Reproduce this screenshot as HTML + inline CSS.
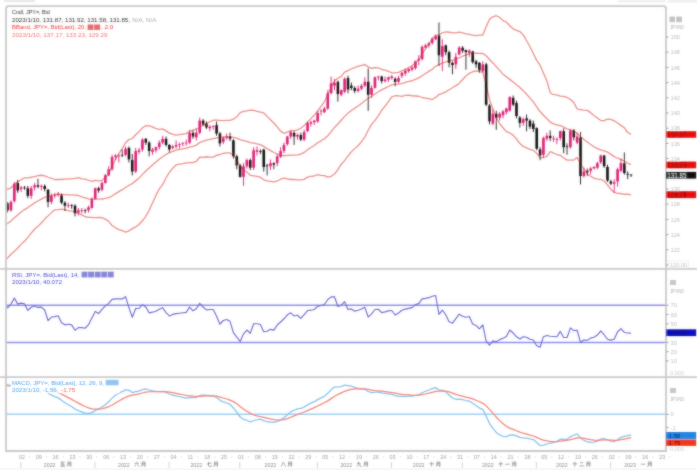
<!DOCTYPE html>
<html><head><meta charset="utf-8"><style>
html,body{margin:0;padding:0;background:#fff;}
body{width:697px;height:470px;overflow:hidden;position:relative;font-family:"Liberation Sans",sans-serif;}
</style></head><body>
<svg width="697" height="470" viewBox="0 0 697 470" style="position:absolute;left:0;top:0">
<defs><filter id="sb" x="0" y="0" width="697" height="470" filterUnits="userSpaceOnUse"><feGaussianBlur in="SourceGraphic" stdDeviation="0.8" result="b"/><feComposite in="SourceGraphic" in2="b" operator="arithmetic" k1="0" k2="0.5" k3="0.5" k4="0"/></filter><clipPath id="cm"><rect x="6.0" y="6.1" width="660.0" height="262.79999999999995"/></clipPath><clipPath id="cr"><rect x="6.0" y="268.9" width="660.0" height="108.30000000000001"/></clipPath><clipPath id="cc"><rect x="6.0" y="377.2" width="660.0" height="73.80000000000001"/></clipPath></defs><g filter="url(#sb)">
<g clip-path="url(#cm)"><path d="M0.88,193.19 L4.25,190.37 L7.62,189.16 L10.99,187.96 L14.36,183.93 L17.73,181.82 L21.10,179.74 L24.47,177.92 L27.84,177.84 L31.21,177.25 L34.58,176.53 L37.95,175.65 L41.32,175.26 L44.69,175.78 L48.06,177.24 L51.43,178.48 L54.80,179.50 L58.17,179.35 L61.54,179.52 L64.91,179.21 L68.28,178.97 L71.65,178.81 L75.02,178.34 L78.39,177.71 L81.76,178.80 L85.13,179.06 L88.50,180.25 L91.87,181.43 L95.24,180.46 L98.61,180.81 L101.98,180.33 L105.35,177.71 L108.72,173.81 L112.09,166.52 L115.46,159.51 L118.83,153.70 L122.20,148.66 L125.57,142.77 L128.94,139.58 L132.31,138.50 L135.68,134.80 L139.05,131.66 L142.42,128.05 L145.79,125.77 L149.16,125.81 L152.53,126.95 L155.90,128.56 L159.27,129.37 L162.64,128.82 L166.01,130.86 L169.38,133.09 L172.75,134.44 L176.12,135.18 L179.49,134.69 L182.86,134.13 L186.23,133.59 L189.60,131.41 L192.97,130.18 L196.34,128.94 L199.71,127.86 L203.08,125.08 L206.45,123.43 L209.82,121.79 L213.19,120.22 L216.56,120.13 L219.93,120.44 L223.30,120.57 L226.67,120.47 L230.04,120.47 L233.41,119.23 L236.78,116.82 L240.15,112.59 L243.52,111.33 L246.89,110.94 L250.26,110.08 L253.63,110.29 L257.00,111.38 L260.37,112.16 L263.74,112.97 L267.11,116.40 L270.48,119.78 L273.85,123.00 L277.22,126.94 L280.59,131.15 L283.96,133.32 L287.33,132.04 L290.70,130.71 L294.07,130.71 L297.44,129.96 L300.81,128.27 L304.18,125.45 L307.55,122.28 L310.92,118.68 L314.29,115.06 L317.66,110.99 L321.03,106.31 L324.40,101.78 L327.77,94.44 L331.14,86.94 L334.51,80.88 L337.88,78.28 L341.25,76.33 L344.62,72.18 L347.99,70.63 L351.36,69.01 L354.73,67.72 L358.10,66.26 L361.47,65.38 L364.84,64.52 L368.21,66.90 L371.58,68.39 L374.95,67.74 L378.32,67.78 L381.69,69.37 L385.06,70.24 L388.43,71.27 L391.80,72.86 L395.17,72.87 L398.54,72.28 L401.91,70.80 L405.28,69.35 L408.65,67.56 L412.02,65.73 L415.39,62.67 L418.76,59.54 L422.13,53.88 L425.50,48.88 L428.87,44.10 L432.24,38.89 L435.61,35.10 L438.98,34.78 L442.35,32.77 L445.72,31.85 L449.09,32.24 L452.46,32.73 L455.83,32.81 L459.20,32.16 L462.57,32.96 L465.94,33.89 L469.31,34.38 L472.68,35.08 L476.05,35.53 L479.42,35.15 L482.79,34.99 L486.16,26.81 L489.53,19.15 L492.90,16.76 L496.27,15.72 L499.64,17.28 L503.01,20.59 L506.38,22.01 L509.75,25.78 L513.12,28.85 L516.49,30.29 L519.86,31.53 L523.23,34.91 L526.60,40.79 L529.97,46.77 L533.34,53.51 L536.71,60.35 L540.08,65.17 L543.45,72.90 L546.82,80.64 L550.19,92.69 L553.56,94.70 L556.93,94.85 L560.30,96.05 L563.67,96.35 L567.04,97.48 L570.41,99.46 L573.78,102.39 L577.15,108.95 L580.52,109.53 L583.89,110.09 L587.26,110.35 L590.63,112.65 L594.00,115.51 L597.37,117.99 L600.74,120.56 L604.11,120.60 L607.48,119.21 L610.85,119.42 L614.22,120.83 L617.59,123.05 L620.96,125.37 L624.33,127.82 L627.70,132.50 L631.07,134.42" fill="none" stroke="#e88e8a" stroke-width="1.3" stroke-linejoin="round" /><path d="M0.88,226.81 L4.25,225.18 L7.62,223.54 L10.99,221.07 L14.36,217.65 L17.73,214.88 L21.10,212.07 L24.47,209.60 L27.84,207.58 L31.21,205.23 L34.58,202.87 L37.95,201.01 L41.32,199.11 L44.69,197.44 L48.06,196.56 L51.43,195.54 L54.80,194.66 L58.17,194.47 L61.54,194.36 L64.91,194.59 L68.28,194.81 L71.65,194.93 L75.02,195.08 L78.39,195.50 L81.76,196.83 L85.13,197.85 L88.50,198.84 L91.87,199.37 L95.24,198.99 L98.61,199.11 L101.98,198.99 L105.35,198.42 L108.72,197.59 L112.09,195.99 L115.46,193.67 L118.83,191.66 L122.20,189.68 L125.57,187.44 L128.94,185.28 L132.31,183.57 L135.68,180.87 L139.05,178.09 L142.42,174.41 L145.79,171.03 L149.16,168.06 L152.53,164.98 L155.90,161.98 L159.27,159.17 L162.64,156.70 L166.01,154.42 L169.38,152.75 L172.75,151.30 L176.12,150.09 L179.49,149.44 L182.86,148.83 L186.23,148.19 L189.60,147.05 L192.97,146.44 L196.34,145.11 L199.71,142.56 L203.08,141.23 L206.45,140.09 L209.82,139.45 L213.19,138.65 L216.56,137.78 L219.93,137.47 L223.30,137.02 L226.67,136.71 L230.04,136.71 L233.41,137.28 L236.78,138.08 L240.15,139.60 L243.52,140.66 L246.89,141.46 L250.26,142.68 L253.63,143.06 L257.00,143.93 L260.37,144.69 L263.74,146.40 L267.11,148.68 L270.48,150.62 L273.85,152.48 L277.22,153.96 L280.59,155.18 L283.96,155.75 L287.33,155.41 L290.70,155.10 L294.07,155.10 L297.44,154.91 L300.81,154.08 L304.18,152.41 L307.55,149.71 L310.92,147.50 L314.29,145.53 L317.66,142.79 L321.03,140.82 L324.40,138.73 L327.77,135.80 L331.14,131.62 L334.51,127.44 L337.88,123.98 L341.25,120.26 L344.62,116.38 L347.99,113.30 L351.36,110.45 L354.73,108.17 L358.10,106.01 L361.47,103.46 L364.84,100.80 L368.21,98.56 L371.58,96.36 L374.95,94.08 L378.32,91.80 L381.69,89.82 L385.06,88.15 L388.43,86.48 L391.80,84.88 L395.17,84.31 L398.54,84.04 L401.91,83.55 L405.28,82.37 L408.65,81.31 L412.02,80.74 L415.39,79.33 L418.76,77.89 L422.13,75.68 L425.50,73.52 L428.87,71.39 L432.24,69.22 L435.61,66.30 L438.98,64.66 L442.35,63.11 L445.72,61.89 L449.09,60.98 L452.46,60.26 L455.83,59.23 L459.20,57.79 L462.57,56.23 L465.94,54.94 L469.31,53.83 L472.68,53.42 L476.05,53.19 L479.42,53.34 L482.79,53.49 L486.16,55.77 L489.53,59.50 L492.90,62.92 L496.27,66.64 L499.64,70.40 L503.01,74.16 L506.38,76.82 L509.75,79.37 L513.12,81.99 L516.49,84.65 L519.86,87.54 L523.23,90.66 L526.60,94.30 L529.97,98.10 L533.34,101.94 L536.71,106.84 L540.08,111.52 L543.45,115.20 L546.82,118.47 L550.19,122.16 L553.56,123.87 L556.93,124.78 L560.30,125.65 L563.67,127.14 L567.04,128.81 L570.41,129.76 L573.78,131.20 L577.15,133.18 L580.52,136.75 L583.89,139.52 L587.26,141.99 L590.63,144.46 L594.00,146.78 L597.37,148.61 L600.74,149.94 L604.11,150.81 L607.48,152.06 L610.85,154.34 L614.22,156.66 L617.59,158.22 L620.96,159.44 L624.33,161.11 L627.70,163.27 L631.07,164.66" fill="none" stroke="#e88e8a" stroke-width="1.3" stroke-linejoin="round" /><path d="M0.88,260.43 L4.25,259.98 L7.62,257.92 L10.99,254.19 L14.36,251.37 L17.73,247.94 L21.10,244.39 L24.47,241.27 L27.84,237.32 L31.21,233.20 L34.58,229.21 L37.95,226.37 L41.32,222.95 L44.69,219.09 L48.06,215.89 L51.43,212.59 L54.80,209.83 L58.17,209.59 L61.54,209.19 L64.91,209.96 L68.28,210.66 L71.65,211.05 L75.02,211.82 L78.39,213.29 L81.76,214.86 L85.13,216.65 L88.50,217.43 L91.87,217.32 L95.24,217.53 L98.61,217.41 L101.98,217.66 L105.35,219.14 L108.72,221.37 L112.09,225.47 L115.46,227.84 L118.83,229.62 L122.20,230.71 L125.57,232.12 L128.94,230.97 L132.31,228.63 L135.68,226.94 L139.05,224.52 L142.42,220.77 L145.79,216.28 L149.16,210.31 L152.53,203.02 L155.90,195.40 L159.27,188.97 L162.64,184.58 L166.01,177.98 L169.38,172.41 L172.75,168.16 L176.12,164.99 L179.49,164.20 L182.86,163.53 L186.23,162.78 L189.60,162.69 L192.97,162.70 L196.34,161.28 L199.71,157.27 L203.08,157.39 L206.45,156.75 L209.82,157.11 L213.19,157.08 L216.56,155.43 L219.93,154.50 L223.30,153.46 L226.67,152.95 L230.04,152.95 L233.41,155.33 L236.78,159.34 L240.15,166.61 L243.52,170.00 L246.89,171.98 L250.26,175.28 L253.63,175.82 L257.00,176.48 L260.37,177.23 L263.74,179.83 L267.11,180.96 L270.48,181.46 L273.85,181.97 L277.22,180.99 L280.59,179.21 L283.96,178.18 L287.33,178.77 L290.70,179.50 L294.07,179.50 L297.44,179.86 L300.81,179.89 L304.18,179.36 L307.55,177.14 L310.92,176.33 L314.29,175.99 L317.66,174.59 L321.03,175.32 L324.40,175.67 L327.77,177.16 L331.14,176.30 L334.51,174.00 L337.88,169.68 L341.25,164.19 L344.62,160.58 L347.99,155.98 L351.36,151.90 L354.73,148.63 L358.10,145.76 L361.47,141.55 L364.84,137.08 L368.21,130.22 L371.58,124.32 L374.95,120.41 L378.32,115.81 L381.69,110.27 L385.06,106.06 L388.43,101.68 L391.80,96.90 L395.17,95.75 L398.54,95.81 L401.91,96.30 L405.28,95.40 L408.65,95.06 L412.02,95.74 L415.39,95.99 L418.76,96.24 L422.13,97.49 L425.50,98.15 L428.87,98.68 L432.24,99.56 L435.61,97.49 L438.98,94.55 L442.35,93.45 L445.72,91.93 L449.09,89.71 L452.46,87.79 L455.83,85.65 L459.20,83.42 L462.57,79.50 L465.94,75.98 L469.31,73.29 L472.68,71.75 L476.05,70.85 L479.42,71.53 L482.79,72.00 L486.16,84.73 L489.53,99.84 L492.90,109.07 L496.27,117.56 L499.64,123.53 L503.01,127.73 L506.38,131.64 L509.75,132.96 L513.12,135.14 L516.49,139.01 L519.86,143.55 L523.23,146.41 L526.60,147.82 L529.97,149.44 L533.34,150.37 L536.71,153.33 L540.08,157.86 L543.45,157.51 L546.82,156.30 L550.19,151.62 L553.56,153.03 L556.93,154.71 L560.30,155.26 L563.67,157.92 L567.04,160.13 L570.41,160.06 L573.78,160.02 L577.15,157.41 L580.52,163.97 L583.89,168.96 L587.26,173.64 L590.63,176.28 L594.00,178.05 L597.37,179.22 L600.74,179.31 L604.11,181.02 L607.48,184.92 L610.85,189.27 L614.22,192.49 L617.59,193.39 L620.96,193.51 L624.33,194.39 L627.70,194.05 L631.07,194.91" fill="none" stroke="#e88e8a" stroke-width="1.3" stroke-linejoin="round" />
<line x1="4.25" y1="199.64" x2="4.25" y2="207.24" stroke="#151515" stroke-width="0.9"/>
<rect x="2.95" y="200.40" width="2.6" height="3.04" fill="#151515"/>
<line x1="7.62" y1="201.92" x2="7.62" y2="212.56" stroke="#151515" stroke-width="0.9"/>
<rect x="6.32" y="203.44" width="2.6" height="6.84" fill="#151515"/>
<line x1="10.99" y1="200.40" x2="10.99" y2="211.80" stroke="#da1f72" stroke-width="0.9"/>
<rect x="9.69" y="201.92" width="2.6" height="8.36" fill="#da1f72"/>
<line x1="14.36" y1="182.16" x2="14.36" y2="202.68" stroke="#da1f72" stroke-width="0.9"/>
<rect x="13.06" y="183.68" width="2.6" height="17.48" fill="#da1f72"/>
<line x1="17.73" y1="179.88" x2="17.73" y2="192.80" stroke="#151515" stroke-width="0.9"/>
<rect x="16.43" y="182.92" width="2.6" height="7.60" fill="#151515"/>
<line x1="21.10" y1="185.96" x2="21.10" y2="192.04" stroke="#da1f72" stroke-width="0.9"/>
<rect x="19.80" y="187.48" width="2.6" height="1.52" fill="#da1f72"/>
<line x1="24.47" y1="185.96" x2="24.47" y2="189.76" stroke="#151515" stroke-width="0.9"/>
<rect x="23.17" y="187.46" width="2.6" height="0.80" fill="#151515"/>
<line x1="27.84" y1="185.96" x2="27.84" y2="198.12" stroke="#151515" stroke-width="0.9"/>
<rect x="26.54" y="188.24" width="2.6" height="7.60" fill="#151515"/>
<line x1="31.21" y1="185.96" x2="31.21" y2="198.88" stroke="#da1f72" stroke-width="0.9"/>
<rect x="29.91" y="188.24" width="2.6" height="7.60" fill="#da1f72"/>
<line x1="34.58" y1="182.92" x2="34.58" y2="190.52" stroke="#da1f72" stroke-width="0.9"/>
<rect x="33.28" y="185.20" width="2.6" height="2.28" fill="#da1f72"/>
<line x1="37.95" y1="178.74" x2="37.95" y2="188.24" stroke="#151515" stroke-width="0.9"/>
<rect x="36.65" y="185.20" width="2.6" height="1.52" fill="#151515"/>
<line x1="41.32" y1="184.44" x2="41.32" y2="190.52" stroke="#da1f72" stroke-width="0.9"/>
<rect x="40.02" y="185.94" width="2.6" height="0.80" fill="#da1f72"/>
<line x1="44.69" y1="184.44" x2="44.69" y2="191.28" stroke="#151515" stroke-width="0.9"/>
<rect x="43.39" y="185.96" width="2.6" height="3.04" fill="#151515"/>
<line x1="48.06" y1="189.00" x2="48.06" y2="207.24" stroke="#151515" stroke-width="0.9"/>
<rect x="46.76" y="189.76" width="2.6" height="12.16" fill="#151515"/>
<line x1="51.43" y1="193.56" x2="51.43" y2="204.20" stroke="#da1f72" stroke-width="0.9"/>
<rect x="50.13" y="195.84" width="2.6" height="6.08" fill="#da1f72"/>
<line x1="54.80" y1="192.80" x2="54.80" y2="198.12" stroke="#da1f72" stroke-width="0.9"/>
<rect x="53.50" y="195.06" width="2.6" height="0.80" fill="#da1f72"/>
<line x1="58.17" y1="192.04" x2="58.17" y2="196.60" stroke="#da1f72" stroke-width="0.9"/>
<rect x="56.87" y="193.56" width="2.6" height="1.52" fill="#da1f72"/>
<line x1="61.54" y1="193.56" x2="61.54" y2="204.20" stroke="#151515" stroke-width="0.9"/>
<rect x="60.24" y="195.08" width="2.6" height="7.60" fill="#151515"/>
<line x1="64.91" y1="201.16" x2="64.91" y2="211.04" stroke="#151515" stroke-width="0.9"/>
<rect x="63.61" y="202.68" width="2.6" height="3.04" fill="#151515"/>
<line x1="68.28" y1="202.68" x2="68.28" y2="208.00" stroke="#da1f72" stroke-width="0.9"/>
<rect x="66.98" y="204.94" width="2.6" height="0.80" fill="#da1f72"/>
<line x1="71.65" y1="204.20" x2="71.65" y2="208.76" stroke="#151515" stroke-width="0.9"/>
<rect x="70.35" y="204.94" width="2.6" height="0.80" fill="#151515"/>
<line x1="75.02" y1="204.20" x2="75.02" y2="216.36" stroke="#151515" stroke-width="0.9"/>
<rect x="73.72" y="205.72" width="2.6" height="7.60" fill="#151515"/>
<line x1="78.39" y1="208.00" x2="78.39" y2="215.60" stroke="#da1f72" stroke-width="0.9"/>
<rect x="77.09" y="210.28" width="2.6" height="2.28" fill="#da1f72"/>
<line x1="81.76" y1="208.00" x2="81.76" y2="213.32" stroke="#da1f72" stroke-width="0.9"/>
<rect x="80.46" y="210.26" width="2.6" height="0.80" fill="#da1f72"/>
<line x1="85.13" y1="208.76" x2="85.13" y2="213.32" stroke="#151515" stroke-width="0.9"/>
<rect x="83.83" y="210.26" width="2.6" height="0.80" fill="#151515"/>
<line x1="88.50" y1="205.72" x2="88.50" y2="212.56" stroke="#da1f72" stroke-width="0.9"/>
<rect x="87.20" y="207.24" width="2.6" height="3.04" fill="#da1f72"/>
<line x1="91.87" y1="197.36" x2="91.87" y2="208.76" stroke="#da1f72" stroke-width="0.9"/>
<rect x="90.57" y="198.88" width="2.6" height="9.12" fill="#da1f72"/>
<line x1="95.24" y1="187.48" x2="95.24" y2="199.64" stroke="#da1f72" stroke-width="0.9"/>
<rect x="93.94" y="188.24" width="2.6" height="10.64" fill="#da1f72"/>
<line x1="98.61" y1="186.72" x2="98.61" y2="192.80" stroke="#151515" stroke-width="0.9"/>
<rect x="97.31" y="188.24" width="2.6" height="2.28" fill="#151515"/>
<line x1="101.98" y1="181.40" x2="101.98" y2="191.28" stroke="#da1f72" stroke-width="0.9"/>
<rect x="100.68" y="182.92" width="2.6" height="6.84" fill="#da1f72"/>
<line x1="105.35" y1="173.80" x2="105.35" y2="183.68" stroke="#da1f72" stroke-width="0.9"/>
<rect x="104.05" y="175.32" width="2.6" height="7.60" fill="#da1f72"/>
<line x1="108.72" y1="166.20" x2="108.72" y2="176.08" stroke="#da1f72" stroke-width="0.9"/>
<rect x="107.42" y="169.24" width="2.6" height="6.08" fill="#da1f72"/>
<line x1="112.09" y1="154.80" x2="112.09" y2="170.76" stroke="#da1f72" stroke-width="0.9"/>
<rect x="110.79" y="157.08" width="2.6" height="12.16" fill="#da1f72"/>
<line x1="115.46" y1="154.04" x2="115.46" y2="160.12" stroke="#da1f72" stroke-width="0.9"/>
<rect x="114.16" y="155.56" width="2.6" height="1.52" fill="#da1f72"/>
<line x1="118.83" y1="154.04" x2="118.83" y2="162.40" stroke="#da1f72" stroke-width="0.9"/>
<rect x="117.53" y="155.54" width="2.6" height="0.80" fill="#da1f72"/>
<line x1="122.20" y1="149.48" x2="122.20" y2="157.08" stroke="#151515" stroke-width="0.9"/>
<rect x="120.90" y="154.78" width="2.6" height="0.80" fill="#151515"/>
<line x1="125.57" y1="146.44" x2="125.57" y2="156.32" stroke="#da1f72" stroke-width="0.9"/>
<rect x="124.27" y="148.72" width="2.6" height="6.08" fill="#da1f72"/>
<line x1="128.94" y1="146.44" x2="128.94" y2="162.40" stroke="#151515" stroke-width="0.9"/>
<rect x="127.64" y="147.96" width="2.6" height="11.40" fill="#151515"/>
<line x1="132.31" y1="154.04" x2="132.31" y2="175.32" stroke="#151515" stroke-width="0.9"/>
<rect x="131.01" y="160.12" width="2.6" height="11.40" fill="#151515"/>
<line x1="135.68" y1="147.96" x2="135.68" y2="173.04" stroke="#da1f72" stroke-width="0.9"/>
<rect x="134.38" y="151.00" width="2.6" height="20.52" fill="#da1f72"/>
<line x1="139.05" y1="147.96" x2="139.05" y2="154.04" stroke="#da1f72" stroke-width="0.9"/>
<rect x="137.75" y="150.24" width="2.6" height="1.52" fill="#da1f72"/>
<line x1="142.42" y1="138.08" x2="142.42" y2="151.76" stroke="#da1f72" stroke-width="0.9"/>
<rect x="141.12" y="139.60" width="2.6" height="9.88" fill="#da1f72"/>
<line x1="145.79" y1="138.08" x2="145.79" y2="144.92" stroke="#151515" stroke-width="0.9"/>
<rect x="144.49" y="138.84" width="2.6" height="3.80" fill="#151515"/>
<line x1="149.16" y1="141.12" x2="149.16" y2="156.32" stroke="#151515" stroke-width="0.9"/>
<rect x="147.86" y="142.64" width="2.6" height="8.36" fill="#151515"/>
<line x1="152.53" y1="147.96" x2="152.53" y2="154.80" stroke="#da1f72" stroke-width="0.9"/>
<rect x="151.23" y="149.48" width="2.6" height="2.28" fill="#da1f72"/>
<line x1="155.90" y1="146.44" x2="155.90" y2="152.52" stroke="#da1f72" stroke-width="0.9"/>
<rect x="154.60" y="147.20" width="2.6" height="3.04" fill="#da1f72"/>
<line x1="159.27" y1="140.36" x2="159.27" y2="149.48" stroke="#da1f72" stroke-width="0.9"/>
<rect x="157.97" y="142.64" width="2.6" height="4.56" fill="#da1f72"/>
<line x1="162.64" y1="135.80" x2="162.64" y2="144.16" stroke="#da1f72" stroke-width="0.9"/>
<rect x="161.34" y="138.84" width="2.6" height="3.80" fill="#da1f72"/>
<line x1="166.01" y1="136.56" x2="166.01" y2="146.44" stroke="#151515" stroke-width="0.9"/>
<rect x="164.71" y="138.84" width="2.6" height="6.08" fill="#151515"/>
<line x1="169.38" y1="144.16" x2="169.38" y2="152.52" stroke="#151515" stroke-width="0.9"/>
<rect x="168.08" y="144.92" width="2.6" height="4.56" fill="#151515"/>
<line x1="172.75" y1="144.92" x2="172.75" y2="149.48" stroke="#da1f72" stroke-width="0.9"/>
<rect x="171.45" y="146.44" width="2.6" height="1.52" fill="#da1f72"/>
<line x1="176.12" y1="140.36" x2="176.12" y2="148.72" stroke="#da1f72" stroke-width="0.9"/>
<rect x="174.82" y="144.92" width="2.6" height="1.52" fill="#da1f72"/>
<line x1="179.49" y1="142.64" x2="179.49" y2="148.72" stroke="#da1f72" stroke-width="0.9"/>
<rect x="178.19" y="144.14" width="2.6" height="0.80" fill="#da1f72"/>
<line x1="182.86" y1="141.88" x2="182.86" y2="146.44" stroke="#da1f72" stroke-width="0.9"/>
<rect x="181.56" y="143.38" width="2.6" height="0.80" fill="#da1f72"/>
<line x1="186.23" y1="139.60" x2="186.23" y2="145.68" stroke="#da1f72" stroke-width="0.9"/>
<rect x="184.93" y="142.62" width="2.6" height="0.80" fill="#da1f72"/>
<line x1="189.60" y1="129.72" x2="189.60" y2="144.16" stroke="#da1f72" stroke-width="0.9"/>
<rect x="188.30" y="132.76" width="2.6" height="9.88" fill="#da1f72"/>
<line x1="192.97" y1="130.48" x2="192.97" y2="138.84" stroke="#151515" stroke-width="0.9"/>
<rect x="191.67" y="132.76" width="2.6" height="3.80" fill="#151515"/>
<line x1="196.34" y1="128.96" x2="196.34" y2="140.36" stroke="#da1f72" stroke-width="0.9"/>
<rect x="195.04" y="132.76" width="2.6" height="4.56" fill="#da1f72"/>
<line x1="199.71" y1="117.56" x2="199.71" y2="134.28" stroke="#da1f72" stroke-width="0.9"/>
<rect x="198.41" y="120.60" width="2.6" height="12.16" fill="#da1f72"/>
<line x1="203.08" y1="119.08" x2="203.08" y2="125.92" stroke="#151515" stroke-width="0.9"/>
<rect x="201.78" y="120.60" width="2.6" height="3.80" fill="#151515"/>
<line x1="206.45" y1="121.36" x2="206.45" y2="128.96" stroke="#151515" stroke-width="0.9"/>
<rect x="205.15" y="123.64" width="2.6" height="3.80" fill="#151515"/>
<line x1="209.82" y1="125.16" x2="209.82" y2="131.24" stroke="#da1f72" stroke-width="0.9"/>
<rect x="208.52" y="126.68" width="2.6" height="1.52" fill="#da1f72"/>
<line x1="213.19" y1="125.16" x2="213.19" y2="129.72" stroke="#da1f72" stroke-width="0.9"/>
<rect x="211.89" y="126.28" width="2.6" height="0.80" fill="#da1f72"/>
<line x1="216.56" y1="121.36" x2="216.56" y2="135.80" stroke="#151515" stroke-width="0.9"/>
<rect x="215.26" y="125.16" width="2.6" height="8.36" fill="#151515"/>
<line x1="219.93" y1="132.00" x2="219.93" y2="146.44" stroke="#151515" stroke-width="0.9"/>
<rect x="218.63" y="133.52" width="2.6" height="9.88" fill="#151515"/>
<line x1="223.30" y1="136.56" x2="223.30" y2="144.16" stroke="#da1f72" stroke-width="0.9"/>
<rect x="222.00" y="138.08" width="2.6" height="3.80" fill="#da1f72"/>
<line x1="226.67" y1="133.52" x2="226.67" y2="139.60" stroke="#da1f72" stroke-width="0.9"/>
<rect x="225.37" y="136.56" width="2.6" height="1.52" fill="#da1f72"/>
<line x1="230.04" y1="132.76" x2="230.04" y2="141.12" stroke="#151515" stroke-width="0.9"/>
<rect x="228.74" y="136.56" width="2.6" height="2.28" fill="#151515"/>
<line x1="233.41" y1="138.84" x2="233.41" y2="158.60" stroke="#151515" stroke-width="0.9"/>
<rect x="232.11" y="140.36" width="2.6" height="15.96" fill="#151515"/>
<line x1="236.78" y1="154.80" x2="236.78" y2="169.24" stroke="#151515" stroke-width="0.9"/>
<rect x="235.48" y="156.32" width="2.6" height="9.12" fill="#151515"/>
<line x1="240.15" y1="163.92" x2="240.15" y2="177.60" stroke="#151515" stroke-width="0.9"/>
<rect x="238.85" y="165.44" width="2.6" height="11.40" fill="#151515"/>
<line x1="243.52" y1="163.16" x2="243.52" y2="185.96" stroke="#da1f72" stroke-width="0.9"/>
<rect x="242.22" y="166.20" width="2.6" height="10.64" fill="#da1f72"/>
<line x1="246.89" y1="158.60" x2="246.89" y2="168.48" stroke="#da1f72" stroke-width="0.9"/>
<rect x="245.59" y="160.12" width="2.6" height="6.08" fill="#da1f72"/>
<line x1="250.26" y1="158.60" x2="250.26" y2="170.00" stroke="#151515" stroke-width="0.9"/>
<rect x="248.96" y="160.12" width="2.6" height="7.60" fill="#151515"/>
<line x1="253.63" y1="147.20" x2="253.63" y2="170.00" stroke="#da1f72" stroke-width="0.9"/>
<rect x="252.33" y="150.24" width="2.6" height="17.48" fill="#da1f72"/>
<line x1="257.00" y1="146.44" x2="257.00" y2="155.56" stroke="#da1f72" stroke-width="0.9"/>
<rect x="255.70" y="150.24" width="2.6" height="1.52" fill="#da1f72"/>
<line x1="260.37" y1="149.48" x2="260.37" y2="154.04" stroke="#151515" stroke-width="0.9"/>
<rect x="259.07" y="150.98" width="2.6" height="0.80" fill="#151515"/>
<line x1="263.74" y1="148.72" x2="263.74" y2="171.52" stroke="#151515" stroke-width="0.9"/>
<rect x="262.44" y="149.48" width="2.6" height="17.48" fill="#151515"/>
<line x1="267.11" y1="163.92" x2="267.11" y2="175.32" stroke="#151515" stroke-width="0.9"/>
<rect x="265.81" y="165.42" width="2.6" height="0.80" fill="#151515"/>
<line x1="270.48" y1="159.36" x2="270.48" y2="170.00" stroke="#da1f72" stroke-width="0.9"/>
<rect x="269.18" y="163.16" width="2.6" height="3.04" fill="#da1f72"/>
<line x1="273.85" y1="162.40" x2="273.85" y2="169.24" stroke="#151515" stroke-width="0.9"/>
<rect x="272.55" y="163.16" width="2.6" height="1.52" fill="#151515"/>
<line x1="277.22" y1="154.04" x2="277.22" y2="166.20" stroke="#da1f72" stroke-width="0.9"/>
<rect x="275.92" y="156.32" width="2.6" height="6.84" fill="#da1f72"/>
<line x1="280.59" y1="147.20" x2="280.59" y2="157.84" stroke="#da1f72" stroke-width="0.9"/>
<rect x="279.29" y="151.00" width="2.6" height="6.08" fill="#da1f72"/>
<line x1="283.96" y1="142.64" x2="283.96" y2="153.28" stroke="#da1f72" stroke-width="0.9"/>
<rect x="282.66" y="144.92" width="2.6" height="6.08" fill="#da1f72"/>
<line x1="287.33" y1="135.80" x2="287.33" y2="145.68" stroke="#da1f72" stroke-width="0.9"/>
<rect x="286.03" y="136.56" width="2.6" height="7.60" fill="#da1f72"/>
<line x1="290.70" y1="130.48" x2="290.70" y2="138.84" stroke="#da1f72" stroke-width="0.9"/>
<rect x="289.40" y="132.00" width="2.6" height="4.56" fill="#da1f72"/>
<line x1="294.07" y1="131.24" x2="294.07" y2="144.92" stroke="#151515" stroke-width="0.9"/>
<rect x="292.77" y="132.76" width="2.6" height="3.80" fill="#151515"/>
<line x1="297.44" y1="133.52" x2="297.44" y2="139.60" stroke="#da1f72" stroke-width="0.9"/>
<rect x="296.14" y="135.04" width="2.6" height="1.52" fill="#da1f72"/>
<line x1="300.81" y1="132.76" x2="300.81" y2="141.12" stroke="#151515" stroke-width="0.9"/>
<rect x="299.51" y="135.04" width="2.6" height="4.56" fill="#151515"/>
<line x1="304.18" y1="129.72" x2="304.18" y2="141.12" stroke="#da1f72" stroke-width="0.9"/>
<rect x="302.88" y="132.00" width="2.6" height="7.60" fill="#da1f72"/>
<line x1="307.55" y1="121.36" x2="307.55" y2="132.00" stroke="#da1f72" stroke-width="0.9"/>
<rect x="306.25" y="122.88" width="2.6" height="8.36" fill="#da1f72"/>
<line x1="310.92" y1="120.60" x2="310.92" y2="126.68" stroke="#da1f72" stroke-width="0.9"/>
<rect x="309.62" y="122.12" width="2.6" height="1.52" fill="#da1f72"/>
<line x1="314.29" y1="119.84" x2="314.29" y2="125.16" stroke="#da1f72" stroke-width="0.9"/>
<rect x="312.99" y="120.60" width="2.6" height="1.52" fill="#da1f72"/>
<line x1="317.66" y1="110.72" x2="317.66" y2="122.88" stroke="#da1f72" stroke-width="0.9"/>
<rect x="316.36" y="113.00" width="2.6" height="8.36" fill="#da1f72"/>
<line x1="321.03" y1="109.20" x2="321.03" y2="115.28" stroke="#da1f72" stroke-width="0.9"/>
<rect x="319.73" y="110.70" width="2.6" height="0.80" fill="#da1f72"/>
<line x1="324.40" y1="106.92" x2="324.40" y2="113.00" stroke="#da1f72" stroke-width="0.9"/>
<rect x="323.10" y="108.44" width="2.6" height="3.80" fill="#da1f72"/>
<line x1="327.77" y1="90.20" x2="327.77" y2="109.96" stroke="#da1f72" stroke-width="0.9"/>
<rect x="326.47" y="93.24" width="2.6" height="15.20" fill="#da1f72"/>
<line x1="331.14" y1="76.52" x2="331.14" y2="94.00" stroke="#da1f72" stroke-width="0.9"/>
<rect x="329.84" y="83.36" width="2.6" height="9.88" fill="#da1f72"/>
<line x1="334.51" y1="78.80" x2="334.51" y2="90.20" stroke="#da1f72" stroke-width="0.9"/>
<rect x="333.21" y="82.60" width="2.6" height="3.04" fill="#da1f72"/>
<line x1="337.88" y1="80.32" x2="337.88" y2="101.60" stroke="#151515" stroke-width="0.9"/>
<rect x="336.58" y="81.84" width="2.6" height="12.16" fill="#151515"/>
<line x1="341.25" y1="89.44" x2="341.25" y2="96.28" stroke="#da1f72" stroke-width="0.9"/>
<rect x="339.95" y="90.20" width="2.6" height="4.56" fill="#da1f72"/>
<line x1="344.62" y1="77.28" x2="344.62" y2="93.24" stroke="#da1f72" stroke-width="0.9"/>
<rect x="343.32" y="78.80" width="2.6" height="12.92" fill="#da1f72"/>
<line x1="347.99" y1="75.76" x2="347.99" y2="93.24" stroke="#151515" stroke-width="0.9"/>
<rect x="346.69" y="78.04" width="2.6" height="11.40" fill="#151515"/>
<line x1="351.36" y1="82.60" x2="351.36" y2="90.20" stroke="#151515" stroke-width="0.9"/>
<rect x="350.06" y="85.64" width="2.6" height="2.28" fill="#151515"/>
<line x1="354.73" y1="86.40" x2="354.73" y2="93.24" stroke="#151515" stroke-width="0.9"/>
<rect x="353.43" y="87.92" width="2.6" height="3.04" fill="#151515"/>
<line x1="358.10" y1="85.64" x2="358.10" y2="92.48" stroke="#da1f72" stroke-width="0.9"/>
<rect x="356.80" y="88.68" width="2.6" height="2.28" fill="#da1f72"/>
<line x1="361.47" y1="84.12" x2="361.47" y2="90.20" stroke="#da1f72" stroke-width="0.9"/>
<rect x="360.17" y="85.64" width="2.6" height="3.04" fill="#da1f72"/>
<line x1="364.84" y1="77.28" x2="364.84" y2="87.16" stroke="#da1f72" stroke-width="0.9"/>
<rect x="363.54" y="81.84" width="2.6" height="3.80" fill="#da1f72"/>
<line x1="368.21" y1="68.16" x2="368.21" y2="110.72" stroke="#151515" stroke-width="0.9"/>
<rect x="366.91" y="81.84" width="2.6" height="12.92" fill="#151515"/>
<line x1="371.58" y1="85.64" x2="371.58" y2="97.80" stroke="#da1f72" stroke-width="0.9"/>
<rect x="370.28" y="87.92" width="2.6" height="6.84" fill="#da1f72"/>
<line x1="374.95" y1="76.52" x2="374.95" y2="88.68" stroke="#da1f72" stroke-width="0.9"/>
<rect x="373.65" y="77.28" width="2.6" height="10.64" fill="#da1f72"/>
<line x1="378.32" y1="75.76" x2="378.32" y2="80.32" stroke="#da1f72" stroke-width="0.9"/>
<rect x="377.02" y="76.50" width="2.6" height="0.80" fill="#da1f72"/>
<line x1="381.69" y1="75.76" x2="381.69" y2="83.36" stroke="#151515" stroke-width="0.9"/>
<rect x="380.39" y="76.52" width="2.6" height="4.56" fill="#151515"/>
<line x1="385.06" y1="76.52" x2="385.06" y2="82.60" stroke="#da1f72" stroke-width="0.9"/>
<rect x="383.76" y="79.56" width="2.6" height="1.52" fill="#da1f72"/>
<line x1="388.43" y1="76.52" x2="388.43" y2="81.84" stroke="#da1f72" stroke-width="0.9"/>
<rect x="387.13" y="77.28" width="2.6" height="2.28" fill="#da1f72"/>
<line x1="391.80" y1="75.00" x2="391.80" y2="79.56" stroke="#da1f72" stroke-width="0.9"/>
<rect x="390.50" y="76.52" width="2.6" height="1.52" fill="#da1f72"/>
<line x1="395.17" y1="77.28" x2="395.17" y2="86.40" stroke="#151515" stroke-width="0.9"/>
<rect x="393.87" y="78.80" width="2.6" height="3.04" fill="#151515"/>
<line x1="398.54" y1="75.76" x2="398.54" y2="83.36" stroke="#da1f72" stroke-width="0.9"/>
<rect x="397.24" y="78.04" width="2.6" height="3.80" fill="#da1f72"/>
<line x1="401.91" y1="71.96" x2="401.91" y2="78.04" stroke="#da1f72" stroke-width="0.9"/>
<rect x="400.61" y="72.72" width="2.6" height="3.04" fill="#da1f72"/>
<line x1="405.28" y1="68.92" x2="405.28" y2="75.76" stroke="#da1f72" stroke-width="0.9"/>
<rect x="403.98" y="70.44" width="2.6" height="3.04" fill="#da1f72"/>
<line x1="408.65" y1="68.16" x2="408.65" y2="72.72" stroke="#da1f72" stroke-width="0.9"/>
<rect x="407.35" y="68.92" width="2.6" height="2.28" fill="#da1f72"/>
<line x1="412.02" y1="65.88" x2="412.02" y2="71.20" stroke="#da1f72" stroke-width="0.9"/>
<rect x="410.72" y="67.40" width="2.6" height="2.28" fill="#da1f72"/>
<line x1="415.39" y1="60.56" x2="415.39" y2="69.68" stroke="#da1f72" stroke-width="0.9"/>
<rect x="414.09" y="61.32" width="2.6" height="6.84" fill="#da1f72"/>
<line x1="418.76" y1="55.24" x2="418.76" y2="65.12" stroke="#da1f72" stroke-width="0.9"/>
<rect x="417.46" y="59.04" width="2.6" height="1.52" fill="#da1f72"/>
<line x1="422.13" y1="45.36" x2="422.13" y2="60.56" stroke="#da1f72" stroke-width="0.9"/>
<rect x="420.83" y="46.88" width="2.6" height="12.16" fill="#da1f72"/>
<line x1="425.50" y1="43.84" x2="425.50" y2="48.40" stroke="#da1f72" stroke-width="0.9"/>
<rect x="424.20" y="45.36" width="2.6" height="2.28" fill="#da1f72"/>
<line x1="428.87" y1="42.32" x2="428.87" y2="47.64" stroke="#da1f72" stroke-width="0.9"/>
<rect x="427.57" y="43.08" width="2.6" height="2.28" fill="#da1f72"/>
<line x1="432.24" y1="37.76" x2="432.24" y2="44.60" stroke="#da1f72" stroke-width="0.9"/>
<rect x="430.94" y="38.52" width="2.6" height="4.56" fill="#da1f72"/>
<line x1="435.61" y1="34.72" x2="435.61" y2="40.04" stroke="#da1f72" stroke-width="0.9"/>
<rect x="434.31" y="36.24" width="2.6" height="3.04" fill="#da1f72"/>
<line x1="438.98" y1="22.56" x2="438.98" y2="65.88" stroke="#151515" stroke-width="0.9"/>
<rect x="437.68" y="35.48" width="2.6" height="19.76" fill="#151515"/>
<line x1="442.35" y1="39.28" x2="442.35" y2="71.20" stroke="#da1f72" stroke-width="0.9"/>
<rect x="441.05" y="46.12" width="2.6" height="10.64" fill="#da1f72"/>
<line x1="445.72" y1="44.60" x2="445.72" y2="55.24" stroke="#151515" stroke-width="0.9"/>
<rect x="444.42" y="45.36" width="2.6" height="6.84" fill="#151515"/>
<line x1="449.09" y1="50.68" x2="449.09" y2="67.40" stroke="#151515" stroke-width="0.9"/>
<rect x="447.79" y="52.20" width="2.6" height="10.64" fill="#151515"/>
<line x1="452.46" y1="61.32" x2="452.46" y2="74.24" stroke="#151515" stroke-width="0.9"/>
<rect x="451.16" y="62.84" width="2.6" height="2.28" fill="#151515"/>
<line x1="455.83" y1="52.96" x2="455.83" y2="68.92" stroke="#da1f72" stroke-width="0.9"/>
<rect x="454.53" y="56.76" width="2.6" height="7.60" fill="#da1f72"/>
<line x1="459.20" y1="46.12" x2="459.20" y2="55.24" stroke="#da1f72" stroke-width="0.9"/>
<rect x="457.90" y="47.64" width="2.6" height="6.84" fill="#da1f72"/>
<line x1="462.57" y1="46.12" x2="462.57" y2="52.96" stroke="#151515" stroke-width="0.9"/>
<rect x="461.27" y="47.64" width="2.6" height="3.04" fill="#151515"/>
<line x1="465.94" y1="49.92" x2="465.94" y2="69.68" stroke="#151515" stroke-width="0.9"/>
<rect x="464.64" y="49.92" width="2.6" height="2.28" fill="#151515"/>
<line x1="469.31" y1="49.16" x2="469.31" y2="56.76" stroke="#da1f72" stroke-width="0.9"/>
<rect x="468.01" y="50.68" width="2.6" height="2.28" fill="#da1f72"/>
<line x1="472.68" y1="50.68" x2="472.68" y2="63.60" stroke="#151515" stroke-width="0.9"/>
<rect x="471.38" y="51.44" width="2.6" height="10.64" fill="#151515"/>
<line x1="476.05" y1="59.80" x2="476.05" y2="68.16" stroke="#151515" stroke-width="0.9"/>
<rect x="474.75" y="61.32" width="2.6" height="3.04" fill="#151515"/>
<line x1="479.42" y1="62.08" x2="479.42" y2="72.72" stroke="#151515" stroke-width="0.9"/>
<rect x="478.12" y="62.84" width="2.6" height="7.60" fill="#151515"/>
<line x1="482.79" y1="61.32" x2="482.79" y2="72.72" stroke="#da1f72" stroke-width="0.9"/>
<rect x="481.49" y="64.36" width="2.6" height="6.84" fill="#da1f72"/>
<line x1="486.16" y1="62.84" x2="486.16" y2="106.16" stroke="#151515" stroke-width="0.9"/>
<rect x="484.86" y="64.36" width="2.6" height="40.28" fill="#151515"/>
<line x1="489.53" y1="103.88" x2="489.53" y2="124.40" stroke="#151515" stroke-width="0.9"/>
<rect x="488.23" y="105.40" width="2.6" height="15.96" fill="#151515"/>
<line x1="492.90" y1="109.20" x2="492.90" y2="125.16" stroke="#da1f72" stroke-width="0.9"/>
<rect x="491.60" y="113.76" width="2.6" height="9.88" fill="#da1f72"/>
<line x1="496.27" y1="110.72" x2="496.27" y2="129.72" stroke="#151515" stroke-width="0.9"/>
<rect x="494.97" y="113.76" width="2.6" height="3.80" fill="#151515"/>
<line x1="499.64" y1="112.24" x2="499.64" y2="120.60" stroke="#da1f72" stroke-width="0.9"/>
<rect x="498.34" y="113.76" width="2.6" height="3.80" fill="#da1f72"/>
<line x1="503.01" y1="109.96" x2="503.01" y2="118.32" stroke="#da1f72" stroke-width="0.9"/>
<rect x="501.71" y="111.48" width="2.6" height="3.80" fill="#da1f72"/>
<line x1="506.38" y1="107.68" x2="506.38" y2="114.52" stroke="#da1f72" stroke-width="0.9"/>
<rect x="505.08" y="108.44" width="2.6" height="3.80" fill="#da1f72"/>
<line x1="509.75" y1="96.28" x2="509.75" y2="111.48" stroke="#da1f72" stroke-width="0.9"/>
<rect x="508.45" y="97.04" width="2.6" height="13.68" fill="#da1f72"/>
<line x1="513.12" y1="95.52" x2="513.12" y2="106.16" stroke="#151515" stroke-width="0.9"/>
<rect x="511.82" y="97.80" width="2.6" height="6.84" fill="#151515"/>
<line x1="516.49" y1="100.84" x2="516.49" y2="118.32" stroke="#151515" stroke-width="0.9"/>
<rect x="515.19" y="103.12" width="2.6" height="12.92" fill="#151515"/>
<line x1="519.86" y1="116.04" x2="519.86" y2="127.44" stroke="#151515" stroke-width="0.9"/>
<rect x="518.56" y="117.56" width="2.6" height="5.32" fill="#151515"/>
<line x1="523.23" y1="117.56" x2="523.23" y2="125.92" stroke="#da1f72" stroke-width="0.9"/>
<rect x="521.93" y="119.08" width="2.6" height="3.80" fill="#da1f72"/>
<line x1="526.60" y1="114.52" x2="526.60" y2="131.24" stroke="#151515" stroke-width="0.9"/>
<rect x="525.30" y="118.32" width="2.6" height="2.28" fill="#151515"/>
<line x1="529.97" y1="119.08" x2="529.97" y2="128.96" stroke="#151515" stroke-width="0.9"/>
<rect x="528.67" y="120.60" width="2.6" height="6.08" fill="#151515"/>
<line x1="533.34" y1="120.60" x2="533.34" y2="132.00" stroke="#151515" stroke-width="0.9"/>
<rect x="532.04" y="123.64" width="2.6" height="5.32" fill="#151515"/>
<line x1="536.71" y1="127.44" x2="536.71" y2="150.24" stroke="#151515" stroke-width="0.9"/>
<rect x="535.41" y="128.20" width="2.6" height="20.52" fill="#151515"/>
<line x1="540.08" y1="147.20" x2="540.08" y2="160.12" stroke="#151515" stroke-width="0.9"/>
<rect x="538.78" y="149.48" width="2.6" height="6.08" fill="#151515"/>
<line x1="543.45" y1="136.56" x2="543.45" y2="157.84" stroke="#da1f72" stroke-width="0.9"/>
<rect x="542.15" y="138.08" width="2.6" height="16.72" fill="#da1f72"/>
<line x1="546.82" y1="132.76" x2="546.82" y2="141.12" stroke="#da1f72" stroke-width="0.9"/>
<rect x="545.52" y="135.80" width="2.6" height="3.04" fill="#da1f72"/>
<line x1="550.19" y1="130.48" x2="550.19" y2="141.12" stroke="#151515" stroke-width="0.9"/>
<rect x="548.89" y="135.80" width="2.6" height="2.28" fill="#151515"/>
<line x1="553.56" y1="135.80" x2="553.56" y2="141.88" stroke="#da1f72" stroke-width="0.9"/>
<rect x="552.26" y="138.44" width="2.6" height="0.80" fill="#da1f72"/>
<line x1="556.93" y1="137.32" x2="556.93" y2="144.16" stroke="#da1f72" stroke-width="0.9"/>
<rect x="555.63" y="139.20" width="2.6" height="0.80" fill="#da1f72"/>
<line x1="560.30" y1="130.48" x2="560.30" y2="140.36" stroke="#da1f72" stroke-width="0.9"/>
<rect x="559.00" y="131.24" width="2.6" height="6.84" fill="#da1f72"/>
<line x1="563.67" y1="128.20" x2="563.67" y2="153.28" stroke="#151515" stroke-width="0.9"/>
<rect x="562.37" y="131.24" width="2.6" height="15.96" fill="#151515"/>
<line x1="567.04" y1="143.40" x2="567.04" y2="154.80" stroke="#151515" stroke-width="0.9"/>
<rect x="565.74" y="146.42" width="2.6" height="0.80" fill="#151515"/>
<line x1="570.41" y1="128.96" x2="570.41" y2="148.72" stroke="#da1f72" stroke-width="0.9"/>
<rect x="569.11" y="130.48" width="2.6" height="16.72" fill="#da1f72"/>
<line x1="573.78" y1="128.96" x2="573.78" y2="140.36" stroke="#151515" stroke-width="0.9"/>
<rect x="572.48" y="130.48" width="2.6" height="6.84" fill="#151515"/>
<line x1="577.15" y1="132.76" x2="577.15" y2="144.16" stroke="#da1f72" stroke-width="0.9"/>
<rect x="575.85" y="136.56" width="2.6" height="6.08" fill="#da1f72"/>
<line x1="580.52" y1="132.00" x2="580.52" y2="184.44" stroke="#151515" stroke-width="0.9"/>
<rect x="579.22" y="137.32" width="2.6" height="38.76" fill="#151515"/>
<line x1="583.89" y1="167.72" x2="583.89" y2="177.60" stroke="#da1f72" stroke-width="0.9"/>
<rect x="582.59" y="171.52" width="2.6" height="4.56" fill="#da1f72"/>
<line x1="587.26" y1="168.48" x2="587.26" y2="176.08" stroke="#151515" stroke-width="0.9"/>
<rect x="585.96" y="170.76" width="2.6" height="1.52" fill="#151515"/>
<line x1="590.63" y1="166.96" x2="590.63" y2="174.56" stroke="#da1f72" stroke-width="0.9"/>
<rect x="589.33" y="168.48" width="2.6" height="2.28" fill="#da1f72"/>
<line x1="594.00" y1="166.20" x2="594.00" y2="169.24" stroke="#da1f72" stroke-width="0.9"/>
<rect x="592.70" y="166.96" width="2.6" height="1.52" fill="#da1f72"/>
<line x1="597.37" y1="161.64" x2="597.37" y2="169.24" stroke="#da1f72" stroke-width="0.9"/>
<rect x="596.07" y="163.16" width="2.6" height="4.56" fill="#da1f72"/>
<line x1="600.74" y1="154.80" x2="600.74" y2="163.92" stroke="#da1f72" stroke-width="0.9"/>
<rect x="599.44" y="155.56" width="2.6" height="6.84" fill="#da1f72"/>
<line x1="604.11" y1="154.80" x2="604.11" y2="167.72" stroke="#151515" stroke-width="0.9"/>
<rect x="602.81" y="155.56" width="2.6" height="10.64" fill="#151515"/>
<line x1="607.48" y1="164.68" x2="607.48" y2="182.16" stroke="#151515" stroke-width="0.9"/>
<rect x="606.18" y="166.96" width="2.6" height="13.68" fill="#151515"/>
<line x1="610.85" y1="179.88" x2="610.85" y2="185.20" stroke="#151515" stroke-width="0.9"/>
<rect x="609.55" y="181.40" width="2.6" height="2.28" fill="#151515"/>
<line x1="614.22" y1="179.12" x2="614.22" y2="192.80" stroke="#da1f72" stroke-width="0.9"/>
<rect x="612.92" y="182.16" width="2.6" height="1.52" fill="#da1f72"/>
<line x1="617.59" y1="167.72" x2="617.59" y2="186.72" stroke="#da1f72" stroke-width="0.9"/>
<rect x="616.29" y="169.24" width="2.6" height="12.16" fill="#da1f72"/>
<line x1="620.96" y1="158.60" x2="620.96" y2="172.28" stroke="#da1f72" stroke-width="0.9"/>
<rect x="619.66" y="163.16" width="2.6" height="7.60" fill="#da1f72"/>
<line x1="624.33" y1="152.52" x2="624.33" y2="174.56" stroke="#151515" stroke-width="0.9"/>
<rect x="623.03" y="163.16" width="2.6" height="9.88" fill="#151515"/>
<line x1="627.70" y1="171.52" x2="627.70" y2="179.12" stroke="#151515" stroke-width="0.9"/>
<rect x="626.40" y="173.78" width="2.6" height="0.80" fill="#151515"/>
<line x1="631.07" y1="174.41" x2="631.07" y2="176.99" stroke="#151515" stroke-width="0.9"/>
<rect x="629.77" y="174.46" width="2.6" height="0.80" fill="#151515"/>
</g>
<g clip-path="url(#cr)">
<line x1="6.0" y1="305.3" x2="666.0" y2="305.3" stroke="#8c8cf0" stroke-width="1.5"/>
<line x1="6.0" y1="342.4" x2="666.0" y2="342.4" stroke="#8c8cf0" stroke-width="1.5"/>
<path d="M0.88,296.64 L4.25,300.35 L7.62,307.97 L10.99,304.14 L14.36,298.07 L17.73,304.15 L21.10,303.11 L24.47,303.81 L27.84,310.45 L31.21,307.24 L34.58,306.05 L37.95,307.41 L41.32,307.07 L44.69,310.00 L48.06,320.54 L51.43,317.03 L54.80,316.60 L58.17,315.71 L61.54,322.71 L64.91,324.81 L68.28,324.25 L71.65,324.83 L75.02,330.21 L78.39,327.65 L81.76,327.65 L85.13,328.24 L88.50,324.71 L91.87,318.02 L95.24,311.44 L98.61,313.56 L101.98,309.42 L105.35,305.90 L108.72,303.44 L112.09,299.36 L115.46,298.91 L118.83,298.91 L122.20,298.91 L125.57,296.67 L128.94,307.61 L132.31,317.30 L135.68,308.56 L139.05,308.29 L142.42,304.72 L145.79,306.98 L149.16,312.82 L152.53,312.19 L155.90,311.22 L159.27,309.31 L162.64,307.77 L166.01,312.58 L169.38,315.95 L172.75,314.40 L176.12,313.62 L179.49,313.21 L182.86,312.78 L186.23,312.32 L189.60,307.03 L192.97,310.77 L196.34,308.77 L199.71,303.41 L203.08,307.05 L206.45,309.89 L209.82,309.50 L213.19,309.50 L216.56,316.22 L219.93,324.16 L223.30,320.49 L226.67,319.48 L230.04,321.34 L233.41,332.71 L236.78,337.05 L240.15,341.51 L243.52,333.88 L246.89,330.03 L250.26,333.41 L253.63,323.76 L257.00,323.76 L260.37,324.55 L263.74,331.66 L267.11,331.21 L270.48,329.35 L273.85,330.10 L277.22,324.96 L280.59,321.98 L283.96,318.79 L287.33,314.83 L290.70,312.84 L294.07,315.95 L297.44,315.22 L300.81,318.42 L304.18,314.55 L307.55,310.51 L310.92,310.19 L314.29,309.52 L317.66,306.35 L321.03,305.45 L324.40,304.55 L327.77,299.45 L331.14,296.89 L334.51,296.70 L337.88,306.54 L341.25,305.20 L344.62,301.63 L347.99,309.50 L351.36,308.94 L354.73,311.15 L358.10,310.20 L361.47,308.92 L364.84,307.35 L368.21,317.06 L371.58,313.86 L374.95,309.52 L378.32,309.22 L381.69,312.61 L385.06,311.92 L388.43,310.87 L391.80,310.51 L395.17,315.03 L398.54,312.96 L401.91,310.24 L405.28,309.12 L408.65,308.37 L412.02,307.59 L415.39,304.65 L418.76,303.62 L422.13,298.94 L425.50,298.43 L428.87,297.67 L432.24,296.19 L435.61,295.48 L438.98,314.44 L442.35,310.15 L445.72,314.77 L449.09,321.78 L452.46,323.16 L455.83,318.56 L459.20,314.21 L462.57,316.26 L465.94,317.30 L469.31,316.49 L472.68,324.09 L476.05,325.45 L479.42,328.95 L482.79,324.95 L486.16,341.10 L489.53,345.10 L492.90,340.84 L496.27,341.80 L499.64,339.61 L503.01,338.26 L506.38,336.44 L509.75,330.05 L513.12,332.95 L516.49,336.84 L519.86,338.95 L523.23,336.71 L526.60,337.23 L529.97,339.29 L533.34,340.05 L536.71,345.68 L540.08,347.27 L543.45,336.68 L546.82,335.44 L550.19,336.21 L553.56,336.47 L556.93,336.76 L560.30,331.41 L563.67,337.48 L567.04,337.48 L570.41,327.90 L573.78,330.68 L577.15,330.27 L580.52,342.42 L583.89,340.05 L587.26,340.25 L590.63,338.13 L594.00,337.26 L597.37,335.04 L600.74,330.77 L604.11,334.73 L607.48,339.28 L610.85,340.15 L614.22,339.22 L617.59,331.78 L620.96,328.65 L624.33,332.45 L627.70,333.02 L631.07,333.17" fill="none" stroke="#6a6ad0" stroke-width="1.15" stroke-linejoin="round" />
</g>
<g clip-path="url(#cc)">
<line x1="6.0" y1="414.3" x2="666.0" y2="414.3" stroke="#9ccff0" stroke-width="1.5"/>
<path d="M0.88,383.12 L4.25,383.82 L7.62,385.67 L10.99,386.28 L14.36,384.53 L17.73,384.46 L21.10,384.31 L24.47,384.65 L27.84,386.31 L31.21,386.87 L34.58,387.20 L37.95,387.98 L41.32,388.78 L44.69,390.12 L48.06,393.25 L51.43,395.10 L54.80,396.66 L58.17,397.87 L61.54,400.28 L64.91,402.75 L68.28,404.71 L71.65,406.46 L75.02,408.98 L78.39,410.60 L81.76,411.90 L85.13,413.06 L88.50,413.45 L91.87,412.60 L95.24,410.46 L98.61,409.15 L101.98,407.13 L105.35,404.56 L108.72,401.81 L112.09,398.10 L115.46,395.16 L118.83,393.08 L122.20,391.69 L125.57,389.91 L128.94,390.27 L132.31,392.53 L135.68,391.68 L139.05,391.17 L142.42,389.55 L145.79,388.98 L149.16,389.99 L152.53,390.85 L155.90,391.47 L159.27,391.58 L162.64,391.40 L166.01,392.36 L169.38,394.01 L172.75,395.10 L176.12,395.96 L179.49,396.74 L182.86,397.45 L186.23,398.08 L189.60,397.39 L192.97,397.57 L196.34,397.37 L199.71,395.71 L203.08,395.15 L206.45,395.35 L209.82,395.62 L213.19,396.05 L216.56,397.54 L219.93,400.29 L223.30,401.85 L226.67,403.01 L230.04,404.36 L233.41,407.97 L236.78,412.15 L240.15,417.04 L243.52,419.35 L246.89,420.26 L250.26,421.96 L253.63,420.77 L257.00,419.76 L260.37,419.12 L263.74,420.68 L267.11,421.73 L270.48,422.04 L273.85,422.41 L277.22,421.44 L280.59,419.85 L283.96,417.70 L287.33,414.81 L290.70,411.90 L294.07,410.28 L297.44,408.85 L300.81,408.43 L304.18,407.10 L307.55,404.87 L310.92,403.13 L314.29,401.67 L317.66,399.62 L321.03,397.86 L324.40,396.35 L327.77,393.25 L331.14,389.68 L334.51,387.06 L337.88,386.90 L341.25,386.57 L344.62,385.03 L347.99,385.64 L351.36,386.23 L354.73,387.44 L358.10,388.38 L361.47,388.98 L364.84,389.21 L368.21,391.49 L371.58,392.57 L374.95,392.18 L378.32,392.02 L381.69,392.79 L385.06,393.42 L388.43,393.84 L391.80,394.29 L395.17,395.62 L398.54,396.34 L401.91,396.37 L405.28,396.27 L408.65,396.19 L412.02,396.12 L415.39,395.43 L418.76,394.78 L422.13,392.80 L425.50,391.28 L428.87,390.03 L432.24,388.69 L435.61,387.62 L438.98,389.74 L442.35,390.40 L445.72,392.04 L449.09,395.06 L452.46,397.97 L455.83,399.27 L459.20,399.18 L462.57,399.71 L465.94,400.51 L469.31,401.07 L472.68,403.26 L476.05,405.42 L479.42,408.06 L482.79,409.35 L486.16,416.04 L489.53,423.59 L492.90,428.35 L496.27,432.44 L499.64,434.91 L503.01,436.29 L506.38,436.70 L509.75,435.18 L513.12,434.80 L516.49,435.87 L519.86,437.41 L523.23,437.83 L526.60,438.10 L529.97,438.89 L533.34,439.54 L536.71,442.53 L540.08,445.50 L543.45,445.03 L546.82,444.00 L550.19,443.17 L553.56,442.29 L556.93,441.39 L560.30,439.22 L563.67,439.45 L567.04,439.35 L570.41,436.65 L573.78,435.24 L577.15,433.79 L580.52,437.94 L583.89,440.29 L587.26,441.94 L590.63,442.39 L594.00,442.21 L597.37,441.22 L600.74,439.08 L604.11,438.60 L607.48,439.97 L610.85,441.17 L614.22,441.59 L617.59,439.81 L620.96,437.27 L624.33,436.40 L627.70,435.68 L631.07,434.93" fill="none" stroke="#80c0ec" stroke-width="1.25" stroke-linejoin="round" />
<path d="M0.88,385.29 L4.25,385.00 L7.62,385.13 L10.99,385.36 L14.36,385.20 L17.73,385.05 L21.10,384.90 L24.47,384.85 L27.84,385.14 L31.21,385.49 L34.58,385.83 L37.95,386.26 L41.32,386.76 L44.69,387.44 L48.06,388.60 L51.43,389.90 L54.80,391.25 L58.17,392.57 L61.54,394.11 L64.91,395.84 L68.28,397.61 L71.65,399.38 L75.02,401.30 L78.39,403.16 L81.76,404.91 L85.13,406.54 L88.50,407.92 L91.87,408.86 L95.24,409.18 L98.61,409.17 L101.98,408.76 L105.35,407.92 L108.72,406.70 L112.09,404.98 L115.46,403.02 L118.83,401.03 L122.20,399.16 L125.57,397.31 L128.94,395.90 L132.31,395.23 L135.68,394.52 L139.05,393.85 L142.42,392.99 L145.79,392.19 L149.16,391.75 L152.53,391.57 L155.90,391.55 L159.27,391.56 L162.64,391.53 L166.01,391.69 L169.38,392.16 L172.75,392.74 L176.12,393.39 L179.49,394.06 L182.86,394.74 L186.23,395.41 L189.60,395.80 L192.97,396.16 L196.34,396.40 L199.71,396.26 L203.08,396.04 L206.45,395.90 L209.82,395.85 L213.19,395.89 L216.56,396.22 L219.93,397.03 L223.30,398.00 L226.67,399.00 L230.04,400.07 L233.41,401.65 L236.78,403.75 L240.15,406.41 L243.52,409.00 L246.89,411.25 L250.26,413.39 L253.63,414.87 L257.00,415.84 L260.37,416.50 L263.74,417.33 L267.11,418.21 L270.48,418.98 L273.85,419.67 L277.22,420.02 L280.59,419.99 L283.96,419.53 L287.33,418.58 L290.70,417.25 L294.07,415.85 L297.44,414.45 L300.81,413.25 L304.18,412.02 L307.55,410.59 L310.92,409.10 L314.29,407.61 L317.66,406.01 L321.03,404.38 L324.40,402.78 L327.77,400.87 L331.14,398.63 L334.51,396.32 L337.88,394.43 L341.25,392.86 L344.62,391.29 L347.99,390.16 L351.36,389.38 L354.73,388.99 L358.10,388.87 L361.47,388.89 L364.84,388.96 L368.21,389.46 L371.58,390.08 L374.95,390.50 L378.32,390.81 L381.69,391.20 L385.06,391.65 L388.43,392.09 L391.80,392.53 L395.17,393.15 L398.54,393.78 L401.91,394.30 L405.28,394.69 L408.65,394.99 L412.02,395.22 L415.39,395.26 L418.76,395.17 L422.13,394.69 L425.50,394.01 L428.87,393.21 L432.24,392.31 L435.61,391.37 L438.98,391.04 L442.35,390.92 L445.72,391.14 L449.09,391.93 L452.46,393.13 L455.83,394.36 L459.20,395.33 L462.57,396.20 L465.94,397.06 L469.31,397.87 L472.68,398.94 L476.05,400.24 L479.42,401.80 L482.79,403.31 L486.16,405.86 L489.53,409.40 L492.90,413.19 L496.27,417.04 L499.64,420.62 L503.01,423.75 L506.38,426.34 L509.75,428.11 L513.12,429.45 L516.49,430.73 L519.86,432.07 L523.23,433.22 L526.60,434.19 L529.97,435.13 L533.34,436.01 L536.71,437.32 L540.08,438.95 L543.45,440.17 L546.82,440.93 L550.19,441.38 L553.56,441.56 L556.93,441.53 L560.30,441.07 L563.67,440.74 L567.04,440.47 L570.41,439.70 L573.78,438.81 L577.15,437.81 L580.52,437.83 L583.89,438.32 L587.26,439.05 L590.63,439.72 L594.00,440.22 L597.37,440.42 L600.74,440.15 L604.11,439.84 L607.48,439.87 L610.85,440.13 L614.22,440.42 L617.59,440.30 L620.96,439.69 L624.33,439.03 L627.70,438.36 L631.07,437.68" fill="none" stroke="#f08274" stroke-width="1.25" stroke-linejoin="round" />
</g>
<path d="M6.0,451.0 V8.6 Q6.0,6.1 8.5,6.1 H663.5 Q666.0,6.1 666.0,8.6 V451.0 Z" fill="none" stroke="#c9c9c9" stroke-width="1.8"/>
<line x1="0" y1="268.9" x2="697" y2="268.9" stroke="#c9c9c9" stroke-width="1.8"/>
<line x1="0" y1="377.2" x2="697" y2="377.2" stroke="#c9c9c9" stroke-width="1.8"/>
<text x="12" y="14.4" fill="#333" font-size="6.2" font-family="Liberation Sans, sans-serif" text-anchor="start"  textLength="37.80" lengthAdjust="spacingAndGlyphs">Cndl, JPY=, Bid</text>
<text x="12" y="21.8" fill="#333" font-size="6.2" font-family="Liberation Sans, sans-serif" text-anchor="start"  textLength="118.00" lengthAdjust="spacingAndGlyphs">2023/1/10, 131.87, 131.92, 131.58, 131.85,</text>
<text x="132.3" y="21.8" fill="#aaa" font-size="6.2" font-family="Liberation Sans, sans-serif" text-anchor="start"  textLength="24.00" lengthAdjust="spacingAndGlyphs">N/A, N/A</text>
<text x="12" y="29.3" fill="#e8363c" font-size="6.2" font-family="Liberation Sans, sans-serif" text-anchor="start"  textLength="74.00" lengthAdjust="spacingAndGlyphs">BBand, JPY=, Bid(Last), 20,</text>
<rect x="87.6" y="24.5" width="5.9" height="5.4" fill="#d82a30" opacity="0.7"/>
<rect x="94.19999999999999" y="24.5" width="5.9" height="5.4" fill="#d82a30" opacity="0.7"/>
<text x="101" y="29.3" fill="#e8363c" font-size="6.2" font-family="Liberation Sans, sans-serif" text-anchor="start"  textLength="12.40" lengthAdjust="spacingAndGlyphs">, 2.0</text>
<text x="12" y="36.7" fill="#f07070" font-size="6.2" font-family="Liberation Sans, sans-serif" text-anchor="start"  textLength="95.50" lengthAdjust="spacingAndGlyphs">2023/1/10, 137.17, 133.23, 129.29</text>
<text x="12" y="276.7" fill="#4646c8" font-size="6.2" font-family="Liberation Sans, sans-serif" text-anchor="start"  textLength="67.00" lengthAdjust="spacingAndGlyphs">RSI, JPY=, Bid(Last), 14,</text>
<rect x="81.6" y="271.6" width="5.9" height="5.8" fill="#3c3cc0" opacity="0.62"/>
<rect x="88.16" y="271.6" width="5.9" height="5.8" fill="#3c3cc0" opacity="0.62"/>
<rect x="94.72" y="271.6" width="5.9" height="5.8" fill="#3c3cc0" opacity="0.62"/>
<rect x="101.28" y="271.6" width="5.9" height="5.8" fill="#3c3cc0" opacity="0.62"/>
<rect x="107.83999999999999" y="271.6" width="5.9" height="5.8" fill="#3c3cc0" opacity="0.62"/>
<text x="12" y="283.7" fill="#4646c8" font-size="6.2" font-family="Liberation Sans, sans-serif" text-anchor="start"  textLength="49.90" lengthAdjust="spacingAndGlyphs">2023/1/10, 40.072</text>
<rect x="10.5" y="378.2" width="109" height="15.0" fill="#fff"/>
<text x="12" y="384.6" fill="#3a9ae6" font-size="6.2" font-family="Liberation Sans, sans-serif" text-anchor="start"  textLength="92.00" lengthAdjust="spacingAndGlyphs">MACD, JPY=, Bid(Last), 12, 26, 9,</text>
<rect x="105.7" y="379.8" width="12.9" height="5.5" fill="#8cc0f0" opacity="0.95"/>
<text x="12" y="391.5" fill="#3a9ae6" font-size="6.2" font-family="Liberation Sans, sans-serif" text-anchor="start"  textLength="46.50" lengthAdjust="spacingAndGlyphs">2023/1/10, -1.56,</text>
<text x="61.1" y="391.5" fill="#f04040" font-size="6.2" font-family="Liberation Sans, sans-serif" text-anchor="start"  textLength="14.10" lengthAdjust="spacingAndGlyphs">-1.75</text>
<line x1="666.0" y1="37.0" x2="668.5" y2="37.0" stroke="#9a9a9a" stroke-width="1"/>
<text x="670.5" y="39.1" fill="#bdbdbd" font-size="5.7" font-family="Liberation Sans, sans-serif" text-anchor="start" >150</text>
<line x1="666.0" y1="52.2" x2="668.5" y2="52.2" stroke="#9a9a9a" stroke-width="1"/>
<text x="670.5" y="54.300000000000004" fill="#bdbdbd" font-size="5.7" font-family="Liberation Sans, sans-serif" text-anchor="start" >148</text>
<line x1="666.0" y1="67.4" x2="668.5" y2="67.4" stroke="#9a9a9a" stroke-width="1"/>
<text x="670.5" y="69.5" fill="#bdbdbd" font-size="5.7" font-family="Liberation Sans, sans-serif" text-anchor="start" >146</text>
<line x1="666.0" y1="82.6" x2="668.5" y2="82.6" stroke="#9a9a9a" stroke-width="1"/>
<text x="670.5" y="84.69999999999999" fill="#bdbdbd" font-size="5.7" font-family="Liberation Sans, sans-serif" text-anchor="start" >144</text>
<line x1="666.0" y1="97.8" x2="668.5" y2="97.8" stroke="#9a9a9a" stroke-width="1"/>
<text x="670.5" y="99.89999999999999" fill="#bdbdbd" font-size="5.7" font-family="Liberation Sans, sans-serif" text-anchor="start" >142</text>
<line x1="666.0" y1="113.0" x2="668.5" y2="113.0" stroke="#9a9a9a" stroke-width="1"/>
<text x="670.5" y="115.1" fill="#bdbdbd" font-size="5.7" font-family="Liberation Sans, sans-serif" text-anchor="start" >140</text>
<line x1="666.0" y1="128.2" x2="668.5" y2="128.2" stroke="#9a9a9a" stroke-width="1"/>
<text x="670.5" y="130.29999999999998" fill="#bdbdbd" font-size="5.7" font-family="Liberation Sans, sans-serif" text-anchor="start" >138</text>
<line x1="666.0" y1="143.4" x2="668.5" y2="143.4" stroke="#9a9a9a" stroke-width="1"/>
<text x="670.5" y="145.49999999999997" fill="#bdbdbd" font-size="5.7" font-family="Liberation Sans, sans-serif" text-anchor="start" >136</text>
<line x1="666.0" y1="158.6" x2="668.5" y2="158.6" stroke="#9a9a9a" stroke-width="1"/>
<text x="670.5" y="160.7" fill="#bdbdbd" font-size="5.7" font-family="Liberation Sans, sans-serif" text-anchor="start" >134</text>
<line x1="666.0" y1="173.8" x2="668.5" y2="173.8" stroke="#9a9a9a" stroke-width="1"/>
<text x="670.5" y="175.89999999999998" fill="#bdbdbd" font-size="5.7" font-family="Liberation Sans, sans-serif" text-anchor="start" >132</text>
<line x1="666.0" y1="189.0" x2="668.5" y2="189.0" stroke="#9a9a9a" stroke-width="1"/>
<text x="670.5" y="191.1" fill="#bdbdbd" font-size="5.7" font-family="Liberation Sans, sans-serif" text-anchor="start" >130</text>
<line x1="666.0" y1="204.2" x2="668.5" y2="204.2" stroke="#9a9a9a" stroke-width="1"/>
<text x="670.5" y="206.29999999999998" fill="#bdbdbd" font-size="5.7" font-family="Liberation Sans, sans-serif" text-anchor="start" >128</text>
<line x1="666.0" y1="219.4" x2="668.5" y2="219.4" stroke="#9a9a9a" stroke-width="1"/>
<text x="670.5" y="221.49999999999997" fill="#bdbdbd" font-size="5.7" font-family="Liberation Sans, sans-serif" text-anchor="start" >126</text>
<line x1="666.0" y1="234.6" x2="668.5" y2="234.6" stroke="#9a9a9a" stroke-width="1"/>
<text x="670.5" y="236.7" fill="#bdbdbd" font-size="5.7" font-family="Liberation Sans, sans-serif" text-anchor="start" >124</text>
<line x1="666.0" y1="249.8" x2="668.5" y2="249.8" stroke="#9a9a9a" stroke-width="1"/>
<text x="670.5" y="251.89999999999998" fill="#bdbdbd" font-size="5.7" font-family="Liberation Sans, sans-serif" text-anchor="start" >122</text>
<line x1="666.0" y1="265.0" x2="668.5" y2="265.0" stroke="#9a9a9a" stroke-width="1"/>
<rect x="669.5" y="16.6" width="5.4" height="5.6" fill="#999" opacity="0.6"/>
<rect x="676.3" y="16.6" width="5.6" height="5.6" fill="#999" opacity="0.6"/>
<text x="670.2" y="29" fill="#a8a8a8" font-size="5.2" font-family="Liberation Sans, sans-serif" text-anchor="start"  textLength="13.80" lengthAdjust="spacingAndGlyphs">JPY/NO</text>
<line x1="666.0" y1="305.3" x2="668.5" y2="305.3" stroke="#9a9a9a" stroke-width="1"/>
<text x="670.5" y="307.40000000000003" fill="#bdbdbd" font-size="5.7" font-family="Liberation Sans, sans-serif" text-anchor="start" >70</text>
<line x1="666.0" y1="314.6" x2="668.5" y2="314.6" stroke="#9a9a9a" stroke-width="1"/>
<text x="670.5" y="316.675" fill="#bdbdbd" font-size="5.7" font-family="Liberation Sans, sans-serif" text-anchor="start" >60</text>
<line x1="666.0" y1="323.9" x2="668.5" y2="323.9" stroke="#9a9a9a" stroke-width="1"/>
<text x="670.5" y="325.95000000000005" fill="#bdbdbd" font-size="5.7" font-family="Liberation Sans, sans-serif" text-anchor="start" >50</text>
<line x1="666.0" y1="333.1" x2="668.5" y2="333.1" stroke="#9a9a9a" stroke-width="1"/>
<line x1="666.0" y1="342.4" x2="668.5" y2="342.4" stroke="#9a9a9a" stroke-width="1"/>
<text x="670.5" y="344.5" fill="#bdbdbd" font-size="5.7" font-family="Liberation Sans, sans-serif" text-anchor="start" >30</text>
<line x1="666.0" y1="351.7" x2="668.5" y2="351.7" stroke="#9a9a9a" stroke-width="1"/>
<text x="670.5" y="353.775" fill="#bdbdbd" font-size="5.7" font-family="Liberation Sans, sans-serif" text-anchor="start" >20</text>
<line x1="666.0" y1="360.9" x2="668.5" y2="360.9" stroke="#9a9a9a" stroke-width="1"/>
<text x="670.5" y="363.05" fill="#bdbdbd" font-size="5.7" font-family="Liberation Sans, sans-serif" text-anchor="start" >10</text>
<rect x="670" y="280" width="6" height="5" fill="#999" opacity="0.55"/>
<text x="670.2" y="293" fill="#a8a8a8" font-size="5.2" font-family="Liberation Sans, sans-serif" text-anchor="start"  textLength="13.80" lengthAdjust="spacingAndGlyphs">JPY/NO</text>
<text x="670" y="374.5" fill="#cfcfcf" font-size="5.6" font-family="Liberation Sans, sans-serif" text-anchor="start" >0.000</text>
<text x="670" y="267" fill="#c4c4c4" font-size="5.6" font-family="Liberation Sans, sans-serif" text-anchor="start" >120.00</text>
<rect x="668.5" y="261" width="20" height="7" fill="none" stroke="#e4e4e4" stroke-width="0.6"/>
<line x1="666.0" y1="414.3" x2="668.5" y2="414.3" stroke="#9a9a9a" stroke-width="1"/>
<text x="670.5" y="416.40000000000003" fill="#bdbdbd" font-size="5.7" font-family="Liberation Sans, sans-serif" text-anchor="start" >0</text>
<line x1="666.0" y1="427.6" x2="668.5" y2="427.6" stroke="#9a9a9a" stroke-width="1"/>
<text x="670.5" y="429.70000000000005" fill="#bdbdbd" font-size="5.7" font-family="Liberation Sans, sans-serif" text-anchor="start" >-1</text>
<rect x="670" y="388" width="6" height="5" fill="#999" opacity="0.55"/>
<text x="670.2" y="401" fill="#a8a8a8" font-size="5.2" font-family="Liberation Sans, sans-serif" text-anchor="start"  textLength="13.80" lengthAdjust="spacingAndGlyphs">JPY/NO</text>
<text x="670" y="451" fill="#cfcfcf" font-size="5.6" font-family="Liberation Sans, sans-serif" text-anchor="start" >0.000</text>
<rect x="666.0" y="131.2" width="30.200000000000045" height="6.60" fill="#e60c0c"/>
<text x="667.2" y="136.75" fill="#8a0000" font-size="6.3" font-family="Liberation Sans, sans-serif" text-anchor="start" >137.17</text>
<rect x="666.0" y="161.6" width="30.200000000000045" height="6.70" fill="#e60c0c"/>
<text x="667.2" y="167.2" fill="#8a0000" font-size="6.3" font-family="Liberation Sans, sans-serif" text-anchor="start" >133.23</text>
<rect x="666.0" y="171.9" width="30.200000000000045" height="6.70" fill="#111"/>
<text x="667.2" y="177.5" fill="#fff" font-size="6.3" font-family="Liberation Sans, sans-serif" text-anchor="start" >131.85</text>
<rect x="666.0" y="191.2" width="30.200000000000045" height="6.90" fill="#e60c0c"/>
<text x="667.2" y="196.89999999999998" fill="#8a0000" font-size="6.3" font-family="Liberation Sans, sans-serif" text-anchor="start" >129.29</text>
<rect x="666.0" y="329.3" width="30.200000000000045" height="6.80" fill="#1010c4"/>
<text x="667.2" y="334.95000000000005" fill="#000060" font-size="6.3" font-family="Liberation Sans, sans-serif" text-anchor="start" >40.072</text>
<rect x="666.0" y="432.0" width="30.200000000000045" height="7.40" fill="#2484e0"/>
<text x="666.6" y="437.95" fill="#002060" font-size="6.1" font-family="Liberation Sans, sans-serif" text-anchor="start" >-1.56</text>
<rect x="666.0" y="439.6" width="30.200000000000045" height="6.30" fill="#f03818"/>
<text x="666.6" y="445.0" fill="#600000" font-size="6.1" font-family="Liberation Sans, sans-serif" text-anchor="start" >-1.75</text>
<text x="21.900000000000002" y="459.3" fill="#a0a0a0" font-size="5.4" font-family="Liberation Sans, sans-serif" text-anchor="middle" >02</text>
<text x="38.75" y="459.3" fill="#a0a0a0" font-size="5.4" font-family="Liberation Sans, sans-serif" text-anchor="middle" >09</text>
<text x="55.6" y="459.3" fill="#a0a0a0" font-size="5.4" font-family="Liberation Sans, sans-serif" text-anchor="middle" >16</text>
<text x="72.45" y="459.3" fill="#a0a0a0" font-size="5.4" font-family="Liberation Sans, sans-serif" text-anchor="middle" >23</text>
<text x="89.3" y="459.3" fill="#a0a0a0" font-size="5.4" font-family="Liberation Sans, sans-serif" text-anchor="middle" >30</text>
<text x="106.14999999999999" y="459.3" fill="#a0a0a0" font-size="5.4" font-family="Liberation Sans, sans-serif" text-anchor="middle" >06</text>
<text x="123.00000000000001" y="459.3" fill="#a0a0a0" font-size="5.4" font-family="Liberation Sans, sans-serif" text-anchor="middle" >13</text>
<text x="139.85000000000002" y="459.3" fill="#a0a0a0" font-size="5.4" font-family="Liberation Sans, sans-serif" text-anchor="middle" >20</text>
<text x="156.70000000000002" y="459.3" fill="#a0a0a0" font-size="5.4" font-family="Liberation Sans, sans-serif" text-anchor="middle" >27</text>
<text x="173.55" y="459.3" fill="#a0a0a0" font-size="5.4" font-family="Liberation Sans, sans-serif" text-anchor="middle" >04</text>
<text x="190.4" y="459.3" fill="#a0a0a0" font-size="5.4" font-family="Liberation Sans, sans-serif" text-anchor="middle" >11</text>
<text x="207.25" y="459.3" fill="#a0a0a0" font-size="5.4" font-family="Liberation Sans, sans-serif" text-anchor="middle" >18</text>
<text x="224.10000000000002" y="459.3" fill="#a0a0a0" font-size="5.4" font-family="Liberation Sans, sans-serif" text-anchor="middle" >25</text>
<text x="240.95000000000002" y="459.3" fill="#a0a0a0" font-size="5.4" font-family="Liberation Sans, sans-serif" text-anchor="middle" >01</text>
<text x="257.8" y="459.3" fill="#a0a0a0" font-size="5.4" font-family="Liberation Sans, sans-serif" text-anchor="middle" >08</text>
<text x="274.65000000000003" y="459.3" fill="#a0a0a0" font-size="5.4" font-family="Liberation Sans, sans-serif" text-anchor="middle" >15</text>
<text x="291.50000000000006" y="459.3" fill="#a0a0a0" font-size="5.4" font-family="Liberation Sans, sans-serif" text-anchor="middle" >22</text>
<text x="308.35" y="459.3" fill="#a0a0a0" font-size="5.4" font-family="Liberation Sans, sans-serif" text-anchor="middle" >29</text>
<text x="325.20000000000005" y="459.3" fill="#a0a0a0" font-size="5.4" font-family="Liberation Sans, sans-serif" text-anchor="middle" >05</text>
<text x="342.05000000000007" y="459.3" fill="#a0a0a0" font-size="5.4" font-family="Liberation Sans, sans-serif" text-anchor="middle" >12</text>
<text x="358.90000000000003" y="459.3" fill="#a0a0a0" font-size="5.4" font-family="Liberation Sans, sans-serif" text-anchor="middle" >19</text>
<text x="375.75000000000006" y="459.3" fill="#a0a0a0" font-size="5.4" font-family="Liberation Sans, sans-serif" text-anchor="middle" >26</text>
<text x="392.6" y="459.3" fill="#a0a0a0" font-size="5.4" font-family="Liberation Sans, sans-serif" text-anchor="middle" >03</text>
<text x="409.45000000000005" y="459.3" fill="#a0a0a0" font-size="5.4" font-family="Liberation Sans, sans-serif" text-anchor="middle" >10</text>
<text x="426.30000000000007" y="459.3" fill="#a0a0a0" font-size="5.4" font-family="Liberation Sans, sans-serif" text-anchor="middle" >17</text>
<text x="443.15000000000003" y="459.3" fill="#a0a0a0" font-size="5.4" font-family="Liberation Sans, sans-serif" text-anchor="middle" >24</text>
<text x="460.00000000000006" y="459.3" fill="#a0a0a0" font-size="5.4" font-family="Liberation Sans, sans-serif" text-anchor="middle" >31</text>
<text x="476.85" y="459.3" fill="#a0a0a0" font-size="5.4" font-family="Liberation Sans, sans-serif" text-anchor="middle" >07</text>
<text x="493.70000000000005" y="459.3" fill="#a0a0a0" font-size="5.4" font-family="Liberation Sans, sans-serif" text-anchor="middle" >14</text>
<text x="510.55000000000007" y="459.3" fill="#a0a0a0" font-size="5.4" font-family="Liberation Sans, sans-serif" text-anchor="middle" >21</text>
<text x="527.4" y="459.3" fill="#a0a0a0" font-size="5.4" font-family="Liberation Sans, sans-serif" text-anchor="middle" >28</text>
<text x="544.25" y="459.3" fill="#a0a0a0" font-size="5.4" font-family="Liberation Sans, sans-serif" text-anchor="middle" >05</text>
<text x="561.1" y="459.3" fill="#a0a0a0" font-size="5.4" font-family="Liberation Sans, sans-serif" text-anchor="middle" >12</text>
<text x="577.95" y="459.3" fill="#a0a0a0" font-size="5.4" font-family="Liberation Sans, sans-serif" text-anchor="middle" >19</text>
<text x="594.8" y="459.3" fill="#a0a0a0" font-size="5.4" font-family="Liberation Sans, sans-serif" text-anchor="middle" >26</text>
<text x="611.65" y="459.3" fill="#a0a0a0" font-size="5.4" font-family="Liberation Sans, sans-serif" text-anchor="middle" >02</text>
<text x="628.5" y="459.3" fill="#a0a0a0" font-size="5.4" font-family="Liberation Sans, sans-serif" text-anchor="middle" >09</text>
<text x="645.35" y="459.3" fill="#a0a0a0" font-size="5.4" font-family="Liberation Sans, sans-serif" text-anchor="middle" >16</text>
<text x="662.2" y="459.3" fill="#a0a0a0" font-size="5.4" font-family="Liberation Sans, sans-serif" text-anchor="middle" >23</text>
<line x1="29.5" y1="456" x2="29.5" y2="458" stroke="#ddd" stroke-width="0.8"/>
<line x1="46.4" y1="456" x2="46.4" y2="458" stroke="#ddd" stroke-width="0.8"/>
<line x1="63.2" y1="456" x2="63.2" y2="458" stroke="#ddd" stroke-width="0.8"/>
<line x1="80.1" y1="456" x2="80.1" y2="458" stroke="#ddd" stroke-width="0.8"/>
<line x1="96.9" y1="456" x2="96.9" y2="458" stroke="#ddd" stroke-width="0.8"/>
<line x1="113.8" y1="456" x2="113.8" y2="458" stroke="#ddd" stroke-width="0.8"/>
<line x1="130.6" y1="456" x2="130.6" y2="458" stroke="#ddd" stroke-width="0.8"/>
<line x1="147.5" y1="456" x2="147.5" y2="458" stroke="#ddd" stroke-width="0.8"/>
<line x1="164.3" y1="456" x2="164.3" y2="458" stroke="#ddd" stroke-width="0.8"/>
<line x1="181.2" y1="456" x2="181.2" y2="458" stroke="#ddd" stroke-width="0.8"/>
<line x1="198.0" y1="456" x2="198.0" y2="458" stroke="#ddd" stroke-width="0.8"/>
<line x1="214.9" y1="456" x2="214.9" y2="458" stroke="#ddd" stroke-width="0.8"/>
<line x1="231.7" y1="456" x2="231.7" y2="458" stroke="#ddd" stroke-width="0.8"/>
<line x1="248.6" y1="456" x2="248.6" y2="458" stroke="#ddd" stroke-width="0.8"/>
<line x1="265.4" y1="456" x2="265.4" y2="458" stroke="#ddd" stroke-width="0.8"/>
<line x1="282.3" y1="456" x2="282.3" y2="458" stroke="#ddd" stroke-width="0.8"/>
<line x1="299.1" y1="456" x2="299.1" y2="458" stroke="#ddd" stroke-width="0.8"/>
<line x1="316.0" y1="456" x2="316.0" y2="458" stroke="#ddd" stroke-width="0.8"/>
<line x1="332.8" y1="456" x2="332.8" y2="458" stroke="#ddd" stroke-width="0.8"/>
<line x1="349.7" y1="456" x2="349.7" y2="458" stroke="#ddd" stroke-width="0.8"/>
<line x1="366.5" y1="456" x2="366.5" y2="458" stroke="#ddd" stroke-width="0.8"/>
<line x1="383.4" y1="456" x2="383.4" y2="458" stroke="#ddd" stroke-width="0.8"/>
<line x1="400.2" y1="456" x2="400.2" y2="458" stroke="#ddd" stroke-width="0.8"/>
<line x1="417.1" y1="456" x2="417.1" y2="458" stroke="#ddd" stroke-width="0.8"/>
<line x1="433.9" y1="456" x2="433.9" y2="458" stroke="#ddd" stroke-width="0.8"/>
<line x1="450.8" y1="456" x2="450.8" y2="458" stroke="#ddd" stroke-width="0.8"/>
<line x1="467.6" y1="456" x2="467.6" y2="458" stroke="#ddd" stroke-width="0.8"/>
<line x1="484.5" y1="456" x2="484.5" y2="458" stroke="#ddd" stroke-width="0.8"/>
<line x1="501.3" y1="456" x2="501.3" y2="458" stroke="#ddd" stroke-width="0.8"/>
<line x1="518.2" y1="456" x2="518.2" y2="458" stroke="#ddd" stroke-width="0.8"/>
<line x1="535.0" y1="456" x2="535.0" y2="458" stroke="#ddd" stroke-width="0.8"/>
<line x1="551.9" y1="456" x2="551.9" y2="458" stroke="#ddd" stroke-width="0.8"/>
<line x1="568.7" y1="456" x2="568.7" y2="458" stroke="#ddd" stroke-width="0.8"/>
<line x1="585.6" y1="456" x2="585.6" y2="458" stroke="#ddd" stroke-width="0.8"/>
<line x1="602.4" y1="456" x2="602.4" y2="458" stroke="#ddd" stroke-width="0.8"/>
<line x1="619.3" y1="456" x2="619.3" y2="458" stroke="#ddd" stroke-width="0.8"/>
<line x1="636.1" y1="456" x2="636.1" y2="458" stroke="#ddd" stroke-width="0.8"/>
<line x1="653.0" y1="456" x2="653.0" y2="458" stroke="#ddd" stroke-width="0.8"/>
<line x1="669.8" y1="456" x2="669.8" y2="458" stroke="#ddd" stroke-width="0.8"/>
<line x1="20.8" y1="462" x2="20.8" y2="468" stroke="#c8c8c8" stroke-width="0.8"/>
<text x="43.82000000000001" y="466.6" fill="#8a8a8a" font-size="5.6" font-family="Liberation Sans, sans-serif" text-anchor="start"  textLength="11.70" lengthAdjust="spacingAndGlyphs">2022</text>
<path d="M0.5,0.4 L4.5,0.4 M2.1,0.4 L1.6,4.6 M0.8,2.3 L3.9,2.3 L3.7,4.6 M0.1,4.6 L4.9,4.6" transform="translate(60.12,461.70) scale(1.000)" fill="none" stroke="#8a8a8a" stroke-width="0.75" stroke-linecap="butt"/>
<path d="M1.0,0.3 L1.0,3.2 Q1.0,4.4 0.2,5 M1.0,0.3 L4.0,0.3 L4.0,4.6 L3.3,4.9 M1.0,1.9 L4.0,1.9 M1.0,3.3 L4.0,3.3" transform="translate(66.92,461.70) scale(1.000)" fill="none" stroke="#8a8a8a" stroke-width="0.75" stroke-linecap="butt"/>
<line x1="94.9" y1="462" x2="94.9" y2="468" stroke="#c8c8c8" stroke-width="0.8"/>
<text x="117.96" y="466.6" fill="#8a8a8a" font-size="5.6" font-family="Liberation Sans, sans-serif" text-anchor="start"  textLength="11.70" lengthAdjust="spacingAndGlyphs">2022</text>
<path d="M2.3,0 L2.7,0.9 M0.2,1.6 L4.8,1.6 M1.6,2.8 L0.4,4.8 M3.4,2.8 L4.6,4.8" transform="translate(134.26,461.70) scale(1.000)" fill="none" stroke="#8a8a8a" stroke-width="0.75" stroke-linecap="butt"/>
<path d="M1.0,0.3 L1.0,3.2 Q1.0,4.4 0.2,5 M1.0,0.3 L4.0,0.3 L4.0,4.6 L3.3,4.9 M1.0,1.9 L4.0,1.9 M1.0,3.3 L4.0,3.3" transform="translate(141.06,461.70) scale(1.000)" fill="none" stroke="#8a8a8a" stroke-width="0.75" stroke-linecap="butt"/>
<line x1="169.1" y1="462" x2="169.1" y2="468" stroke="#c8c8c8" stroke-width="0.8"/>
<text x="190.41499999999996" y="466.6" fill="#8a8a8a" font-size="5.6" font-family="Liberation Sans, sans-serif" text-anchor="start"  textLength="11.70" lengthAdjust="spacingAndGlyphs">2022</text>
<path d="M0.2,2.4 L4.8,1.4 M1.8,0 L1.8,4.2 Q1.9,4.7 2.6,4.7 L4.8,4.7 L4.8,3.8" transform="translate(206.71,461.70) scale(1.000)" fill="none" stroke="#8a8a8a" stroke-width="0.75" stroke-linecap="butt"/>
<path d="M1.0,0.3 L1.0,3.2 Q1.0,4.4 0.2,5 M1.0,0.3 L4.0,0.3 L4.0,4.6 L3.3,4.9 M1.0,1.9 L4.0,1.9 M1.0,3.3 L4.0,3.3" transform="translate(213.51,461.70) scale(1.000)" fill="none" stroke="#8a8a8a" stroke-width="0.75" stroke-linecap="butt"/>
<line x1="239.8" y1="462" x2="239.8" y2="468" stroke="#c8c8c8" stroke-width="0.8"/>
<text x="264.555" y="466.6" fill="#8a8a8a" font-size="5.6" font-family="Liberation Sans, sans-serif" text-anchor="start"  textLength="11.70" lengthAdjust="spacingAndGlyphs">2022</text>
<path d="M1.8,0.6 Q1.6,3.2 0.2,4.8 M3.0,0.6 Q3.4,3.2 4.8,4.8" transform="translate(280.86,461.70) scale(1.000)" fill="none" stroke="#8a8a8a" stroke-width="0.75" stroke-linecap="butt"/>
<path d="M1.0,0.3 L1.0,3.2 Q1.0,4.4 0.2,5 M1.0,0.3 L4.0,0.3 L4.0,4.6 L3.3,4.9 M1.0,1.9 L4.0,1.9 M1.0,3.3 L4.0,3.3" transform="translate(287.66,461.70) scale(1.000)" fill="none" stroke="#8a8a8a" stroke-width="0.75" stroke-linecap="butt"/>
<line x1="317.4" y1="462" x2="317.4" y2="468" stroke="#c8c8c8" stroke-width="0.8"/>
<text x="340.38" y="466.6" fill="#8a8a8a" font-size="5.6" font-family="Liberation Sans, sans-serif" text-anchor="start"  textLength="11.70" lengthAdjust="spacingAndGlyphs">2022</text>
<path d="M0.4,1.6 L3.3,1.6 L3.3,4.3 Q3.4,4.8 4.0,4.8 L4.8,4.8 M2.0,0 Q2.0,3.2 0.3,4.9" transform="translate(356.68,461.70) scale(1.000)" fill="none" stroke="#8a8a8a" stroke-width="0.75" stroke-linecap="butt"/>
<path d="M1.0,0.3 L1.0,3.2 Q1.0,4.4 0.2,5 M1.0,0.3 L4.0,0.3 L4.0,4.6 L3.3,4.9 M1.0,1.9 L4.0,1.9 M1.0,3.3 L4.0,3.3" transform="translate(363.48,461.70) scale(1.000)" fill="none" stroke="#8a8a8a" stroke-width="0.75" stroke-linecap="butt"/>
<line x1="391.5" y1="462" x2="391.5" y2="468" stroke="#c8c8c8" stroke-width="0.8"/>
<text x="412.835" y="466.6" fill="#8a8a8a" font-size="5.6" font-family="Liberation Sans, sans-serif" text-anchor="start"  textLength="11.70" lengthAdjust="spacingAndGlyphs">2022</text>
<path d="M0.2,2.1 L4.8,2.1 M2.5,0 L2.5,5" transform="translate(429.13,461.70) scale(1.000)" fill="none" stroke="#8a8a8a" stroke-width="0.75" stroke-linecap="butt"/>
<path d="M1.0,0.3 L1.0,3.2 Q1.0,4.4 0.2,5 M1.0,0.3 L4.0,0.3 L4.0,4.6 L3.3,4.9 M1.0,1.9 L4.0,1.9 M1.0,3.3 L4.0,3.3" transform="translate(435.94,461.70) scale(1.000)" fill="none" stroke="#8a8a8a" stroke-width="0.75" stroke-linecap="butt"/>
<line x1="462.3" y1="462" x2="462.3" y2="468" stroke="#c8c8c8" stroke-width="0.8"/>
<text x="481.89000000000004" y="466.6" fill="#8a8a8a" font-size="5.6" font-family="Liberation Sans, sans-serif" text-anchor="start"  textLength="11.70" lengthAdjust="spacingAndGlyphs">2022</text>
<path d="M0.2,2.1 L4.8,2.1 M2.5,0 L2.5,5" transform="translate(498.19,461.70) scale(1.000)" fill="none" stroke="#8a8a8a" stroke-width="0.75" stroke-linecap="butt"/>
<path d="M0.3,2.6 L4.7,2.4" transform="translate(504.99,461.70) scale(1.000)" fill="none" stroke="#8a8a8a" stroke-width="0.75" stroke-linecap="butt"/>
<path d="M1.0,0.3 L1.0,3.2 Q1.0,4.4 0.2,5 M1.0,0.3 L4.0,0.3 L4.0,4.6 L3.3,4.9 M1.0,1.9 L4.0,1.9 M1.0,3.3 L4.0,3.3" transform="translate(511.79,461.70) scale(1.000)" fill="none" stroke="#8a8a8a" stroke-width="0.75" stroke-linecap="butt"/>
<line x1="536.4" y1="462" x2="536.4" y2="468" stroke="#c8c8c8" stroke-width="0.8"/>
<text x="556.03" y="466.6" fill="#8a8a8a" font-size="5.6" font-family="Liberation Sans, sans-serif" text-anchor="start"  textLength="11.70" lengthAdjust="spacingAndGlyphs">2022</text>
<path d="M0.2,2.1 L4.8,2.1 M2.5,0 L2.5,5" transform="translate(572.33,461.70) scale(1.000)" fill="none" stroke="#8a8a8a" stroke-width="0.75" stroke-linecap="butt"/>
<path d="M0.9,1.0 L4.1,1.0 M0.2,4.2 L4.8,4.2" transform="translate(579.13,461.70) scale(1.000)" fill="none" stroke="#8a8a8a" stroke-width="0.75" stroke-linecap="butt"/>
<path d="M1.0,0.3 L1.0,3.2 Q1.0,4.4 0.2,5 M1.0,0.3 L4.0,0.3 L4.0,4.6 L3.3,4.9 M1.0,1.9 L4.0,1.9 M1.0,3.3 L4.0,3.3" transform="translate(585.93,461.70) scale(1.000)" fill="none" stroke="#8a8a8a" stroke-width="0.75" stroke-linecap="butt"/>
<line x1="610.6" y1="462" x2="610.6" y2="468" stroke="#c8c8c8" stroke-width="0.8"/>
<text x="624.2250000000001" y="466.6" fill="#8a8a8a" font-size="5.6" font-family="Liberation Sans, sans-serif" text-anchor="start"  textLength="11.70" lengthAdjust="spacingAndGlyphs">2023</text>
<path d="M0.3,2.6 L4.7,2.4" transform="translate(640.53,461.70) scale(1.000)" fill="none" stroke="#8a8a8a" stroke-width="0.75" stroke-linecap="butt"/>
<path d="M1.0,0.3 L1.0,3.2 Q1.0,4.4 0.2,5 M1.0,0.3 L4.0,0.3 L4.0,4.6 L3.3,4.9 M1.0,1.9 L4.0,1.9 M1.0,3.3 L4.0,3.3" transform="translate(647.33,461.70) scale(1.000)" fill="none" stroke="#8a8a8a" stroke-width="0.75" stroke-linecap="butt"/>
<rect x="0" y="468.6" width="697" height="1.4" fill="#f3f3f3"/>
<rect x="4" y="0" width="31" height="1.8" fill="#bbb" opacity="0.4"/>
<rect x="618" y="0" width="48" height="2.2" fill="#ddd" opacity="0.5"/>
<rect x="668" y="0" width="29" height="2.6" fill="#ddd" opacity="0.5"/>
</g></svg>
</body></html>
